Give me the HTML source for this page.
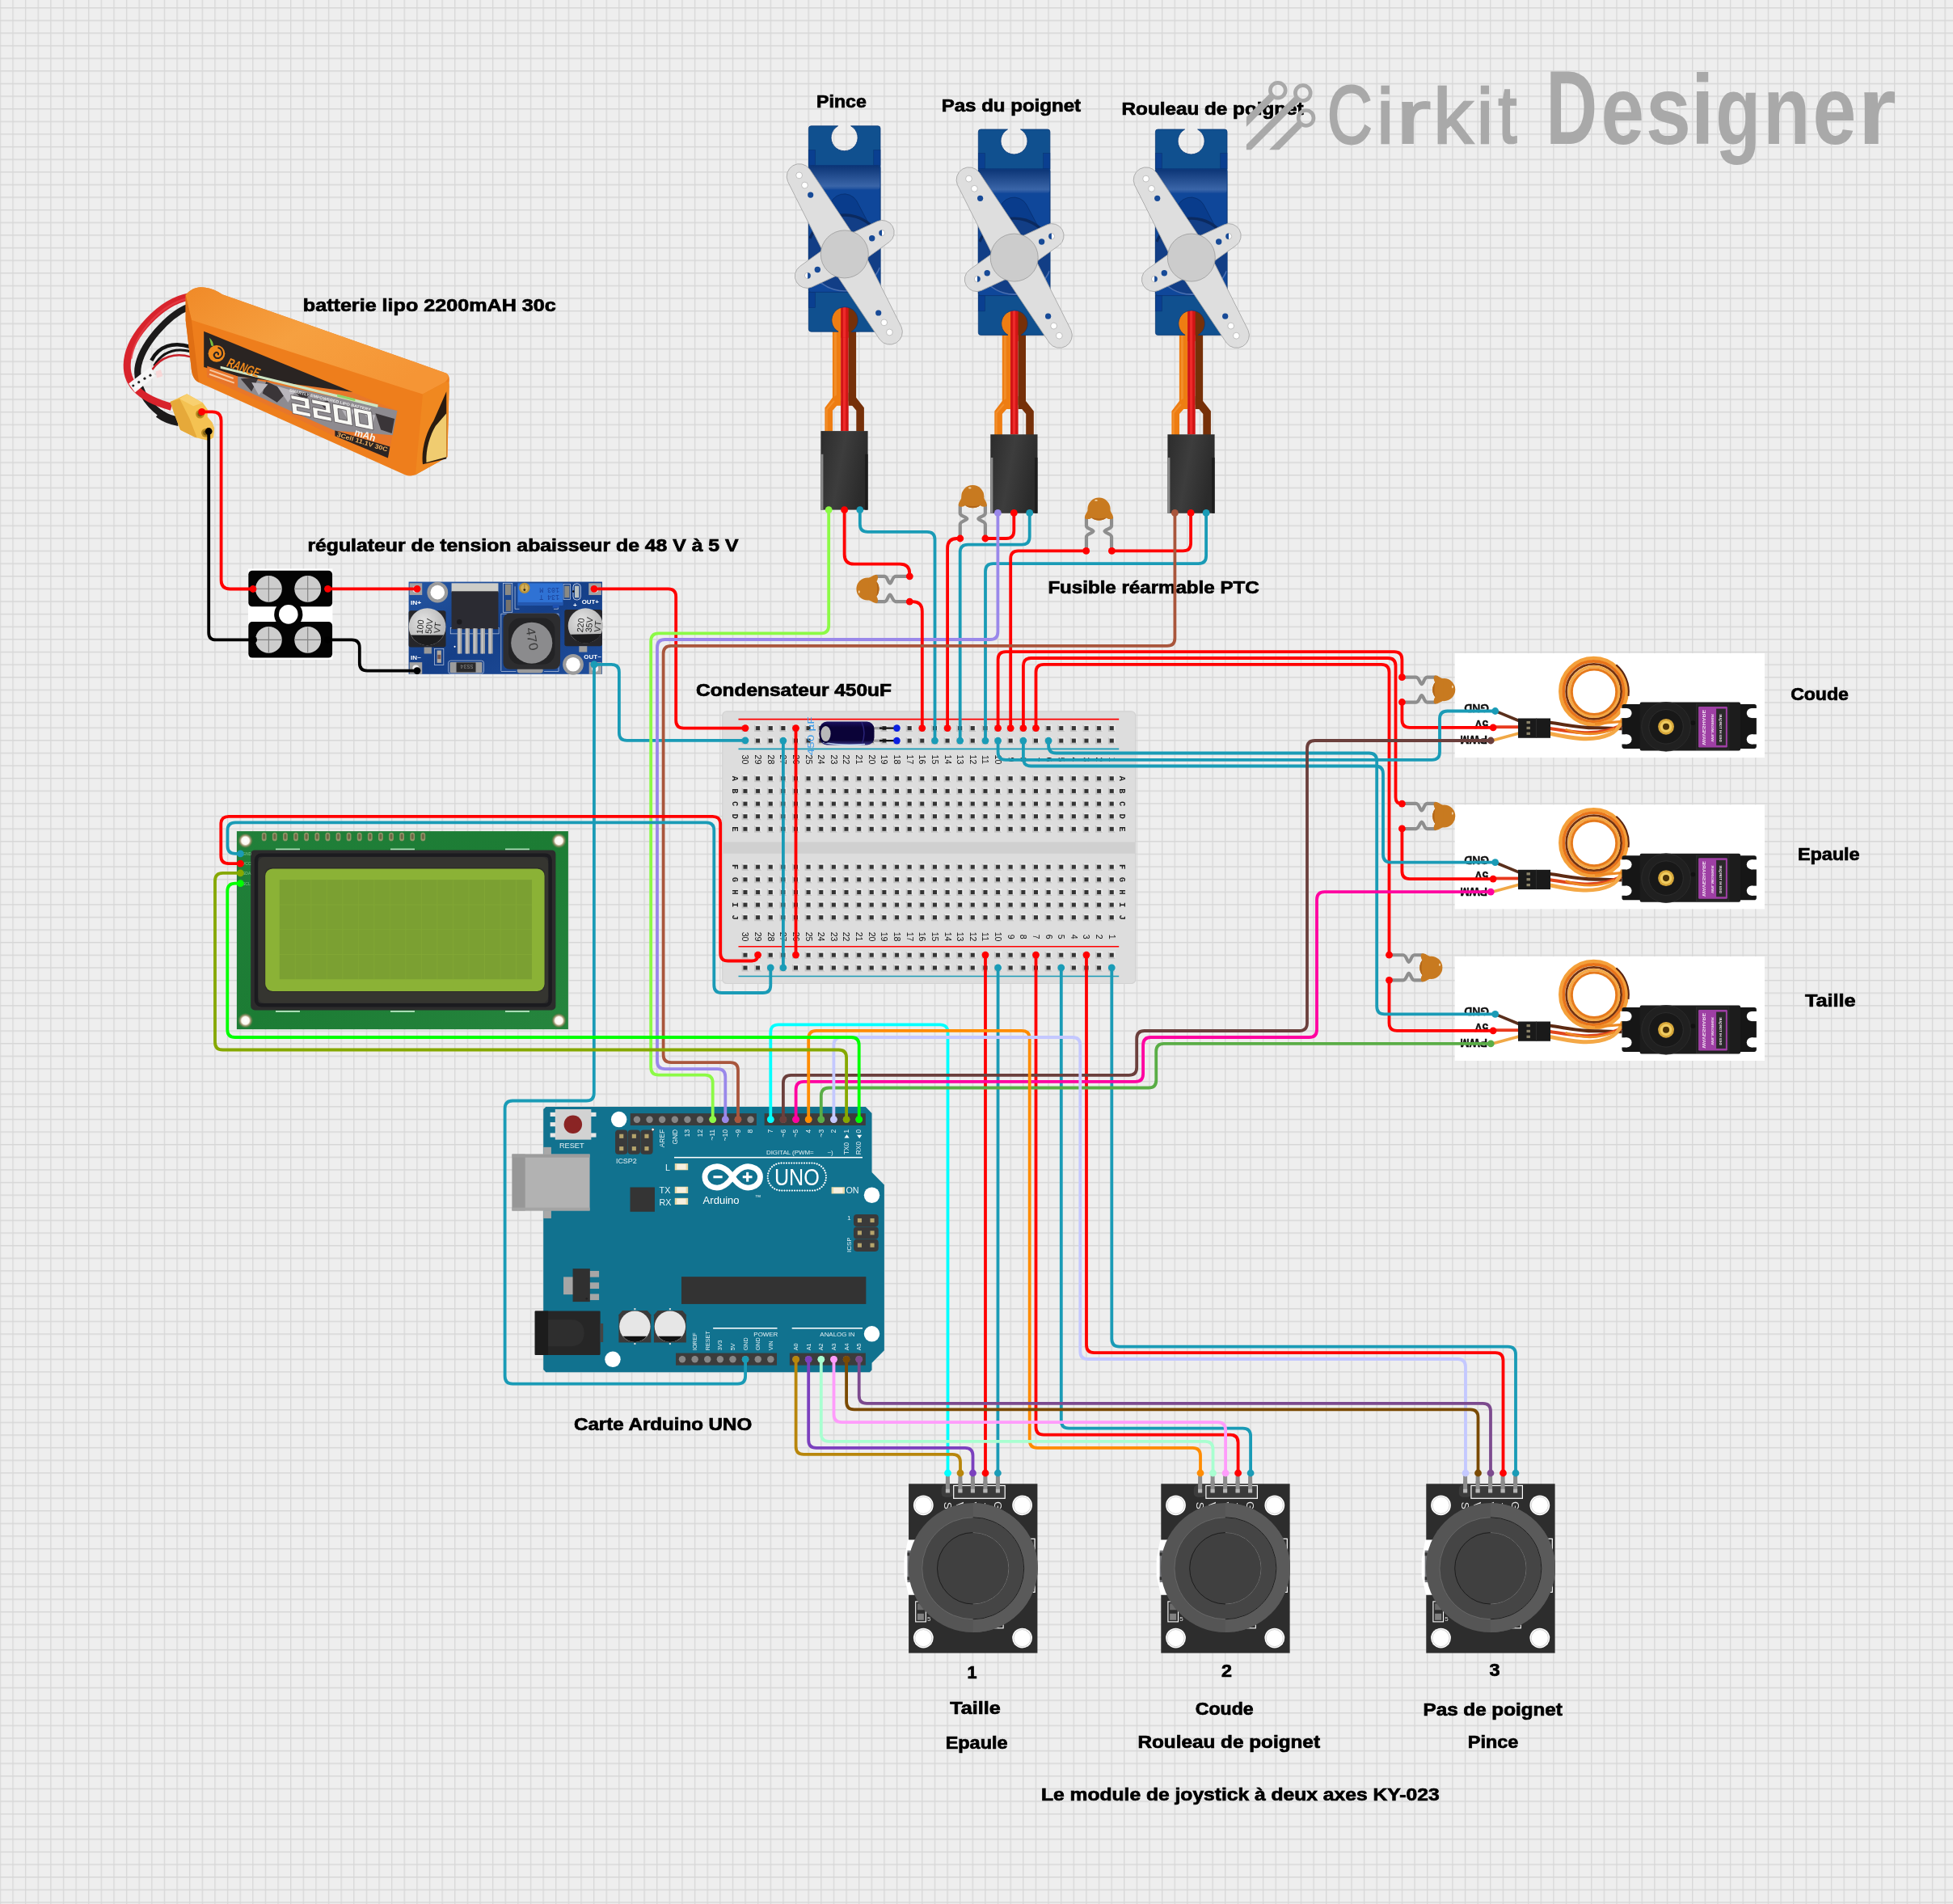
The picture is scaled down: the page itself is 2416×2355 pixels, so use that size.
<!DOCTYPE html>
<html><head><meta charset="utf-8"><title>Circuit</title>
<style>html,body{margin:0;padding:0;background:#eee}svg{display:block;font-family:"Liberation Sans",sans-serif;will-change:transform}</style></head>
<body>
<svg width="2416" height="2355" viewBox="0 0 2416 2355">
<defs><pattern id="grid" width="15.622" height="15.622" patternUnits="userSpaceOnUse" x="-0.3" y="9.0"><path d="M0.7 0V15.622 M0 0.7H15.622" stroke="#d7d7d7" stroke-width="1.3" fill="none"/></pattern></defs>
<rect width="2416" height="2355" fill="#eeeeee"/><rect width="2416" height="2355" fill="url(#grid)"/>
<defs><linearGradient id="sg" x1="0" y1="0" x2="0" y2="1"><stop offset="0" stop-color="#0c3576"/><stop offset="0.85" stop-color="#3a65a8"/><stop offset="1" stop-color="#1a4d9c"/></linearGradient><linearGradient id="cn" x1="0" y1="0" x2="1" y2="0.3"><stop offset="0" stop-color="#2c2c2c"/><stop offset="0.5" stop-color="#3d3d3d"/><stop offset="1" stop-color="#2b2b2b"/></linearGradient><g id="mservo"><rect x="29.5" y="236" width="10.2" height="110" fill="#ee7d12"/><rect x="31.5" y="236" width="3" height="110" fill="#f59a3a" opacity=".6"/><rect x="39.7" y="224" width="9.6" height="153.5" fill="#d01515"/><rect x="42.6" y="224" width="3.2" height="153.5" fill="#ee2a2a"/><rect x="49.3" y="236" width="9.4" height="110" fill="#763009"/><path d="M29.5 336L20 348.5V378H29.6V352L39.7 340.5V330Z" fill="#ee7d12"/><path d="M31.5 340L22.3 350.5V378" stroke="#f59a3a" stroke-width="2" fill="none" opacity=".6"/><path d="M58.7 336L68.5 348.5V378H58.9V352L49.3 340.5V330Z" fill="#763009"/><rect x="27" y="222" width="17.4" height="32.4" fill="#ee7d12"/><rect x="44.4" y="222" width="17.6" height="32.4" fill="#763009"/><rect x="39.7" y="222" width="9.6" height="40" fill="#d01515"/><rect x="42.6" y="222" width="3.2" height="40" fill="#ee2a2a"/><rect x="15" y="377.3" width="58.2" height="97.5" fill="url(#cn)"/><rect x="15" y="406" width="3" height="68.8" fill="#8a8a8a"/><rect x="69.8" y="406" width="3.4" height="68.8" fill="#1c1c1c"/><path d="M3 0H36.2A16.5 16.5 0 1 0 52.2 0H85.6A3 3 0 0 1 88.6 3V251.4A3 3 0 0 1 85.6 254.4H52.8A16.3 16.3 0 1 0 36.7 254.4H3A3 3 0 0 1 0 251.4V3A3 3 0 0 1 3 0Z" fill="#10508f" stroke="#0a3a78" stroke-width=".8"/><rect x="0" y="29.5" width="8.2" height="19.3" fill="#0a3f90" stroke="#08336f" stroke-width=".5"/><rect x="80.4" y="29.5" width="8.2" height="19.3" fill="#0a3f90" stroke="#08336f" stroke-width=".5"/><rect x="0" y="205.6" width="8.2" height="19.3" fill="#0a3f90" stroke="#08336f" stroke-width=".5"/><rect x="80.4" y="205.6" width="8.2" height="19.3" fill="#0a3f90" stroke="#08336f" stroke-width=".5"/><rect x="0" y="48.8" width="88.6" height="156.8" rx="3" fill="#0f479a" stroke="#0a3070" stroke-width=".7"/><rect x="0.5" y="49.3" width="87.6" height="29.5" rx="3" fill="url(#sg)"/><clipPath id="sclip"><rect x="0.5" y="49" width="87.6" height="156"/></clipPath><g clip-path="url(#sclip)"><path d="M26 101A18 18 0 0 1 59.5 93L78 128V150H26Z" fill="#093c8c" stroke="#072d6a" stroke-width=".7"/><circle cx="44.4" cy="157.6" r="47" fill="#123e86"/><path d="M1.5 139A47 47 0 0 1 76 122" stroke="#0b2a60" stroke-width="3.4" fill="none"/><path d="M13 192A47 47 0 0 0 88 175" stroke="#4a6fb0" stroke-width="1.6" fill="none"/></g><g transform="translate(44.4 158.6)"><g transform="rotate(-30.2)"><path d="M-22.5 0L-15.5 -113A15.6 15.6 0 0 1 15.5 -113L22.5 0L15.5 113A15.6 15.6 0 0 1 -15.5 113Z" fill="#dedede" stroke="#a6a6a6" stroke-width=".8"/></g><g transform="rotate(59.8)"><path d="M-20 0L-14.8 -55.5A14.9 14.9 0 0 1 14.8 -55.5L20 0L14.8 55.5A14.9 14.9 0 0 1 -14.8 55.5Z" fill="#dedede" stroke="#a6a6a6" stroke-width=".8"/></g><circle r="29.5" fill="#cccccc" stroke="#9a9a9a" stroke-width=".8"/></g><g fill="#fff" stroke="#aaa" stroke-width=".7"><circle cx="-11.8" cy="61.1" r="3.9"/><circle cx="-4.9" cy="73.3" r="3.9"/><circle cx="100" cy="255.2" r="3.9"/><circle cx="93.3" cy="243.1" r="3.9"/><circle cx="-1.3" cy="185.1" r="3.7"/><circle cx="90.6" cy="132.3" r="3.7"/></g><g fill="#174a97"><circle cx="2.3" cy="85.3" r="3.6"/><circle cx="86.3" cy="231.2" r="3.6"/><circle cx="10.9" cy="177.7" r="3.7"/><circle cx="78.3" cy="139" r="3.7"/><path d="M-1.3 181.4A3.7 3.7 0 0 1 -1.3 188.8Z"/><path d="M90.6 128.6A3.7 3.7 0 0 0 90.6 136Z"/></g></g></defs>
<defs><g id="joy"><rect x="45.8" y="-10" width="5" height="21" fill="#8c8c8c"/><rect x="61.3" y="-10" width="5" height="21" fill="#8c8c8c"/><rect x="76.8" y="-10" width="5" height="21" fill="#8c8c8c"/><rect x="92.3" y="-10" width="5" height="21" fill="#8c8c8c"/><rect x="107.8" y="-10" width="5" height="21" fill="#8c8c8c"/><rect x="0" y="0" width="159.3" height="209.3" fill="#2d2d2d"/><path d="M10 69.2H-1L-5.6 92.9V113.9L-0.3 137.5H10Z" fill="#ffffff"/><rect x="-1.6" y="82.4" width="12" height="39.4" fill="#77787c"/><rect x="-1.6" y="85" width="3" height="4" fill="#333"/><rect x="-1.6" y="115" width="3" height="4" fill="#333"/><rect x="146" y="68" width="10" height="66" fill="none" stroke="#fff" stroke-width="1.2"/><rect x="40.5" y="1.5" width="15.5" height="15" rx="5" fill="#3c3c3c"/><rect x="55.6" y="2.2" width="63.5" height="15.8" fill="#3a3a3a" stroke="#fff" stroke-width="1.2"/><rect x="45.8" y="-3" width="5" height="14" fill="#8c8c8c"/><rect x="45.8" y="6.5" width="5" height="4.5" fill="#b5b5b5"/><rect x="61.3" y="-3" width="5" height="14" fill="#8c8c8c"/><rect x="61.3" y="6.5" width="5" height="4.5" fill="#b5b5b5"/><rect x="76.8" y="-3" width="5" height="14" fill="#8c8c8c"/><rect x="76.8" y="6.5" width="5" height="4.5" fill="#b5b5b5"/><rect x="92.3" y="-3" width="5" height="14" fill="#8c8c8c"/><rect x="92.3" y="6.5" width="5" height="4.5" fill="#b5b5b5"/><rect x="107.8" y="-3" width="5" height="14" fill="#8c8c8c"/><rect x="107.8" y="6.5" width="5" height="4.5" fill="#b5b5b5"/><g font-size="13.5" fill="#e8e8e8" text-anchor="middle" font-family="Liberation Sans, sans-serif"><text transform="translate(43.5 27) rotate(90)">S</text><text transform="translate(59 27) rotate(90)">V</text><text transform="translate(74.5 27) rotate(90)">V</text><text transform="translate(90 27) rotate(90)">+</text><text transform="translate(105.5 27) rotate(90)">G</text></g><circle cx="18.2" cy="26.5" r="12.4" fill="#fff" stroke="#2d2d2d" stroke-width="0"/><circle cx="18.2" cy="26.5" r="10.6" fill="none" stroke="#bdbdbd" stroke-width=".7"/><circle cx="18.2" cy="190.8" r="12.4" fill="#fff" stroke="#2d2d2d" stroke-width="0"/><circle cx="18.2" cy="190.8" r="10.6" fill="none" stroke="#bdbdbd" stroke-width=".7"/><circle cx="140.5" cy="26.5" r="12.4" fill="#fff" stroke="#2d2d2d" stroke-width="0"/><circle cx="140.5" cy="26.5" r="10.6" fill="none" stroke="#bdbdbd" stroke-width=".7"/><circle cx="140.5" cy="190.8" r="12.4" fill="#fff" stroke="#2d2d2d" stroke-width="0"/><circle cx="140.5" cy="190.8" r="10.6" fill="none" stroke="#bdbdbd" stroke-width=".7"/><rect x="8.6" y="145.6" width="12.6" height="25" fill="#2d2d2d" stroke="#fff" stroke-width="1.1"/><rect x="10.8" y="148" width="8" height="8" fill="#6a6a6a"/><rect x="10.8" y="160.5" width="8" height="8" fill="#808080"/><text x="23" y="170" font-size="8" fill="#ddd" font-family="Liberation Sans, sans-serif">5</text><rect x="104" y="166" width="13" height="12.5" fill="none" stroke="#fff" stroke-width="1.1"/><circle cx="79.6" cy="103.7" r="80" fill="#555555"/><path d="M79.6 23.7A80 80 0 0 1 79.6 183.7Z" fill="#5a5a5a"/><circle cx="79.6" cy="104.5" r="63" fill="#454545" stroke="#6e6e6e" stroke-width=".8"/><path d="M79.6 41.5A63 63 0 0 1 79.6 167.5" fill="none" stroke="#1e1e1e" stroke-width="1"/><circle cx="79.6" cy="104.5" r="44.2" fill="#404040" stroke="#1c1c1c" stroke-width="1"/><path d="M79.6 60.3A44.2 44.2 0 0 1 79.6 148.7" fill="none" stroke="#777" stroke-width=".9"/></g></defs>
<defs><g id="bservo"><g transform="scale(0.20227) translate(-22 -40)" font-family="Liberation Sans, sans-serif"><rect x="23" y="39" width="1895" height="638" fill="#ffffff"/><path d="M415 452L270 392" stroke="#5a2f1c" stroke-width="18"/><path d="M415 490L258 490" stroke="#e83a1e" stroke-width="19"/><path d="M415 528L255 572" stroke="#f0a846" stroke-width="18"/><circle cx="872" cy="272" r="203" fill="none" stroke="#f4a03a" stroke-width="23"/><circle cx="872" cy="272" r="184" fill="none" stroke="#e8741a" stroke-width="18"/><circle cx="873" cy="273" r="168" fill="none" stroke="#74320f" stroke-width="14"/><circle cx="874" cy="274" r="152" fill="none" stroke="#f4a846" stroke-width="18"/><circle cx="875" cy="275" r="137" fill="none" stroke="#e67a1c" stroke-width="15"/><path d="M1010 110A215 215 0 0 1 1085 300" stroke="#5a2410" stroke-width="10" fill="none"/><path d="M600 462C700 475 800 500 900 495L1045 500" stroke="#5e2a12" stroke-width="20" fill="none"/><path d="M600 497C720 515 830 540 950 512C1000 500 1030 485 1045 478" stroke="#e0451c" stroke-width="20" fill="none"/><path d="M600 530C720 555 860 585 970 535C1035 505 1062 430 1060 360" stroke="#f4a846" stroke-width="24" fill="none"/><path d="M700 505C800 540 900 545 1000 500" stroke="#ee8a24" stroke-width="14" fill="none"/><path d="M880 470L1045 456" stroke="#ee8a24" stroke-width="16"/><rect x="410" y="437" width="198" height="120" fill="#1a1a1a"/><rect x="520" y="437" width="4" height="120" fill="#333"/><rect x="462" y="454" width="22" height="16" fill="#8c846a"/><rect x="462" y="488" width="22" height="16" fill="#8c846a"/><rect x="462" y="522" width="22" height="16" fill="#8c846a"/><rect x="1045" y="350" width="823" height="272" rx="14" fill="#161616"/><rect x="1155" y="338" width="615" height="297" rx="10" fill="#1c1c1c"/><circle cx="1075" cy="405" r="30" fill="#fff"/><circle cx="1075" cy="565" r="30" fill="#fff"/><circle cx="1838" cy="405" r="30" fill="#fff"/><circle cx="1838" cy="565" r="30" fill="#fff"/><rect x="1035" y="375" width="40" height="60" fill="#fff"/><rect x="1035" y="535" width="40" height="60" fill="#fff"/><rect x="1838" y="375" width="40" height="60" fill="#fff"/><rect x="1838" y="535" width="40" height="60" fill="#fff"/><circle cx="1315" cy="488" r="150" fill="#202020" stroke="#2e2e2e" stroke-width="4"/><circle cx="1315" cy="488" r="105" fill="#181818" stroke="#303030" stroke-width="4"/><circle cx="1315" cy="488" r="49" fill="#d8a83a"/><circle cx="1315" cy="488" r="36" fill="#f0cc60"/><circle cx="1315" cy="488" r="20" fill="#4a3208"/><circle cx="1480" cy="465" r="14" fill="#111"/><rect x="1500" y="350" width="200" height="280" fill="#222" stroke="#333" stroke-width="3"/><rect x="1513" y="365" width="177" height="250" rx="6" fill="#9e3fa4"/><rect x="1622" y="378" width="58" height="224" fill="#2a2a2a"/><g fill="#f0e0f0" font-weight="bold"><text transform="translate(1538 600) rotate(-90) scale(1 -1)" font-size="30" textLength="215" lengthAdjust="spacingAndGlyphs">WAVESHARE</text><text transform="translate(1590 580) rotate(-90) scale(1 -1)" font-size="20" textLength="170" lengthAdjust="spacingAndGlyphs">WS-MG996R</text><text transform="translate(1642 580) rotate(-90) scale(1 -1)" font-size="19" textLength="170" lengthAdjust="spacingAndGlyphs">DIGI HI TORQUE</text></g><g font-size="74" font-weight="bold" fill="#111" stroke="#111" stroke-width="2" text-anchor="start"><text transform="translate(232 352) rotate(180)" textLength="152" lengthAdjust="spacingAndGlyphs">GND</text><text transform="translate(228 447) rotate(180)" textLength="83" lengthAdjust="spacingAndGlyphs">5V</text><text transform="translate(222 545) rotate(180)" textLength="167" lengthAdjust="spacingAndGlyphs">PWM</text></g></g></g></defs>
<g id="bat" transform="translate(140 340) scale(0.22528)" font-family="Liberation Sans, sans-serif"><defs><linearGradient id="btop" x1="0" y1="0" x2="1" y2="0.6"><stop offset="0" stop-color="#f08a28"/><stop offset="0.5" stop-color="#f6a040"/><stop offset="1" stop-color="#f59535"/></linearGradient></defs><path d="M415 175C300 220 150 390 135 515C125 640 210 750 335 800" stroke="#1c1a1a" stroke-width="36" fill="none"/><path d="M415 120C260 150 95 330 78 470C62 600 150 680 320 725" stroke="#d8232c" stroke-width="40" fill="none"/><path d="M405 130C260 165 120 320 100 460" stroke="#e8414a" stroke-width="10" fill="none" opacity=".7"/><path d="M425 395C330 365 250 390 210 470" stroke="#141414" stroke-width="20" fill="none"/><path d="M425 420C340 400 270 420 225 500" stroke="#141414" stroke-width="14" fill="none"/><path d="M425 450C340 425 260 450 215 520" stroke="#c8202a" stroke-width="11" fill="none"/><path d="M250 760C290 790 330 800 360 805" stroke="#1c1a1a" stroke-width="50" fill="none"/><path d="M85 597L205 505L231 554L120 646Z" fill="#f6f6f6"/><path d="M233 530L262 520L272 556L240 566Z" fill="#f9d4d4" opacity=".9"/><circle cx="110" cy="608" r="7" fill="#222"/><circle cx="141" cy="589" r="7" fill="#222"/><circle cx="173" cy="569" r="7" fill="#222"/><circle cx="204" cy="551" r="7" fill="#222"/><path d="M313 697L405 654L492 703L518 738L518 779L544 810L556 841L551 892L523 910L451 892L369 851L338 769Z" fill="#f4c252"/><path d="M313 697L365 680L420 790L460 893L451 892L369 851L338 769Z" fill="#e6a93a"/><path d="M365 680L405 654L492 703L440 720Z" fill="#f8d070"/><circle cx="477" cy="764" r="24" fill="#b98a20"/><circle cx="477" cy="764" r="14" fill="#7a5a10"/><circle cx="508" cy="867" r="24" fill="#b98a20"/><circle cx="508" cy="867" r="14" fill="#7a5a10"/><path d="M398 110C420 85 450 68 480 68C520 68 560 80 600 108L1830 540C1845 550 1848 565 1845 590L1835 1000L1660 1098C1640 1106 1620 1104 1600 1096L470 590C440 575 430 540 428 500L398 250Z" fill="#ee7e1c"/><path d="M398 110C420 85 450 68 480 68C520 68 560 80 600 108L1830 540C1848 552 1840 575 1820 590L1700 655L430 248Z" fill="url(#btop)"/><path d="M398 110L430 248L470 590C440 575 430 540 428 500L398 250Z" fill="#e06f14"/><path d="M1700 655L1820 590C1845 580 1846 600 1845 620L1835 1000L1660 1098Z" fill="#f08820"/><path d="M1760 800L1830 640V1010L1700 1040C1690 960 1720 860 1760 800Z" fill="#2a1c10"/><path d="M1770 830L1830 760V1000L1720 1030C1715 960 1740 880 1770 830Z" fill="#f0cc70"/><path d="M498 310L1560 746L1509 1008L1218 886L684 640L516 560Z" fill="#e8772a"/><path d="M684 555L1560 746L1535 880L1218 856L684 616Z" fill="#8e8b90"/><path d="M700 570L800 560L760 640Z M840 585L960 640L900 700L820 650Z M1000 640L1080 650L1050 700Z M1440 760L1545 790L1530 870L1470 850Z M1130 700L1180 690L1190 760Z" fill="#3a3538"/><path d="M760 590L850 600L800 660Z M1250 730L1330 740L1290 800Z M1380 760L1440 770L1420 830Z M900 610L1000 640L960 700Z" fill="#b9b6bc"/><path d="M498 310L1316 644L684 557L498 506Z" fill="#2a2422"/><path d="M589 500L1455 712L1452 728L589 514Z" fill="#cfe6c4"/><path d="M1230 655L1330 680L1328 694L1230 668Z" fill="#8fd46a"/><path d="M516 500L684 557L684 616L518 560Z" fill="#e8742a"/><path d="M530 522L660 568 M528 545L665 593" stroke="#f6c8a0" stroke-width="9"/><path d="M1218 855L1520 943L1509 1005L1218 885Z" fill="#2b2423"/><circle cx="568" cy="432" r="46" fill="#f08a1c"/><path d="M575 400C600 405 610 440 585 455C560 465 545 440 560 428C570 420 582 430 575 440" stroke="#2b2423" stroke-width="9" fill="none"/><path d="M528 345C545 360 552 375 550 392L538 388C534 370 532 360 528 345Z" fill="#7ac040"/><text transform="translate(618 500) rotate(20) skewX(-8)" font-size="72" fill="#f08a1c" font-weight="bold" textLength="185" lengthAdjust="spacingAndGlyphs">RANGE</text><g transform="matrix(0.997 0.2045 0.109 1.019 975 659)" fill="#f8f8f4" stroke="#4a4548" stroke-width="3" fill-rule="evenodd"><path d="M0 0H100V58H27V78H100V100H0V42H73V22H0Z"/><path transform="translate(115 0)" d="M0 0H100V58H27V78H100V100H0V42H73V22H0Z"/><path transform="translate(230 0)" d="M0 0H100V100H0ZM27 22V78H73V22Z"/><path transform="translate(345 0)" d="M0 0H100V100H0ZM27 22V78H73V22Z"/></g><text transform="translate(1322 880) rotate(17)" font-size="54" fill="#f4f4f0" font-weight="bold" textLength="118" lengthAdjust="spacingAndGlyphs">mAh</text><text transform="translate(1226 886) rotate(17)" font-size="34" fill="#f0b060" font-weight="bold" textLength="290" lengthAdjust="spacingAndGlyphs">3Cell 11.1V 30C</text><text transform="translate(965 640) rotate(13.5)" font-size="22" fill="#e8e8e8" font-weight="bold" textLength="460" lengthAdjust="spacingAndGlyphs">SMARTLY EMPOWERED LIPO BATTERY</text></g>
<g id="term"><rect x="306.9" y="703.5" width="104.5" height="112.3" fill="#ffffff"/><rect x="307.3" y="705.8" width="103.8" height="44.5" rx="4.8" fill="#030303"/><rect x="307.3" y="769.1" width="103.8" height="44.5" rx="4.8" fill="#030303"/><circle cx="356.8" cy="759.9" r="14.7" fill="#fff" stroke="#030303" stroke-width="5.8"/><circle cx="332.4" cy="728.3" r="16.4" fill="#cdcdcd"/><path d="M332.4 712.3V744.3 M316.4 728.3H348.4" stroke="#808080" stroke-width="1.1"/><circle cx="332.4" cy="791.4" r="16.4" fill="#cdcdcd"/><path d="M332.4 775.4V807.4 M316.4 791.4H348.4" stroke="#808080" stroke-width="1.1"/><circle cx="380.7" cy="728.3" r="16.4" fill="#cdcdcd"/><path d="M380.7 712.3V744.3 M364.7 728.3H396.7" stroke="#808080" stroke-width="1.1"/><circle cx="380.7" cy="791.4" r="16.4" fill="#cdcdcd"/><path d="M380.7 775.4V807.4 M364.7 791.4H396.7" stroke="#808080" stroke-width="1.1"/></g>
<g id="reg" transform="translate(496 710) scale(0.13312)" font-family="Liberation Sans, sans-serif"><defs><linearGradient id="rg" x1="0" y1="0" x2="1" y2="1"><stop offset="0" stop-color="#2456a2"/><stop offset="0.5" stop-color="#153f88"/><stop offset="1" stop-color="#1f4e9c"/></linearGradient><radialGradient id="cg" cx=".4" cy=".35" r=".7"><stop offset="0" stop-color="#e4e4e4"/><stop offset="1" stop-color="#b0b0b0"/></radialGradient></defs><rect x="72" y="72" width="1798" height="858" fill="url(#rg)"/><rect x="80" y="85" width="117" height="110" fill="#a2a2a2"/><rect x="1745" y="85" width="117" height="110" fill="#a2a2a2"/><rect x="80" y="820" width="117" height="110" fill="#a2a2a2"/><rect x="1748" y="820" width="117" height="110" fill="#a2a2a2"/><circle cx="138" cy="140" r="30" fill="#f2f2f2"/><circle cx="1805" cy="140" r="30" fill="#f2f2f2"/><circle cx="138" cy="875" r="30" fill="#f2f2f2"/><circle cx="1805" cy="878" r="30" fill="#f2f2f2"/><circle cx="340" cy="170" r="97" fill="#9c9c9c"/><circle cx="340" cy="170" r="66" fill="#fff"/><circle cx="1600" cy="840" r="97" fill="#9c9c9c"/><circle cx="1600" cy="840" r="66" fill="#fff"/><rect x="460" y="500" width="450" height="55" fill="none" stroke="#cfd8e8" stroke-width="5"/><rect x="470" y="85" width="435" height="85" fill="#cdcdc8"/><rect x="470" y="160" width="435" height="352" fill="#2b2b32"/><circle cx="543" cy="445" r="24" fill="#1a1a1e"/><rect x="524" y="505" width="42" height="235" fill="#a8a8a8"/><rect x="535" y="505" width="12" height="235" fill="#c8c8c8"/><rect x="597" y="505" width="42" height="235" fill="#a8a8a8"/><rect x="608" y="505" width="12" height="235" fill="#c8c8c8"/><rect x="669" y="505" width="42" height="235" fill="#a8a8a8"/><rect x="680" y="505" width="12" height="235" fill="#c8c8c8"/><rect x="739" y="505" width="42" height="235" fill="#a8a8a8"/><rect x="750" y="505" width="12" height="235" fill="#c8c8c8"/><rect x="811" y="505" width="42" height="235" fill="#a8a8a8"/><rect x="822" y="505" width="12" height="235" fill="#c8c8c8"/><circle cx="500" cy="675" r="8" fill="#fff"/><rect x="950" y="85" width="85" height="270" fill="none" stroke="#cfd8e8" stroke-width="5"/><rect x="968" y="95" width="55" height="100" fill="#8a8a84"/><rect x="975" y="240" width="48" height="105" fill="#77736c"/><rect x="1510" y="95" width="65" height="140" fill="none" stroke="#cfd8e8" stroke-width="5"/><rect x="1520" y="110" width="45" height="110" fill="#8a8a84"/><rect x="1600" y="90" width="70" height="150" rx="30" fill="none" stroke="#e8eef8" stroke-width="6"/><rect x="1615" y="110" width="40" height="110" fill="#b8c0c0"/><circle cx="1602" cy="162" r="9" fill="#000"/><path d="M1060 115V325H1100 M1420 325H1460V300" stroke="#cfd8e8" stroke-width="5" fill="none"/><rect x="1085" y="85" width="420" height="205" fill="#2f72d4"/><rect x="1085" y="262" width="420" height="28" fill="#2458b0"/><rect x="1410" y="285" width="60" height="28" fill="#1d50b0"/><circle cx="1148" cy="130" r="50" fill="#b8923a"/><circle cx="1148" cy="130" r="34" fill="#d6b055"/><circle cx="1148" cy="147" r="10" fill="#111"/><path d="M1148 95V160" stroke="#6a5020" stroke-width="4"/><g font-size="62" fill="#1a3f96" font-family="Liberation Mono, monospace"><text transform="translate(1472 130) rotate(180)">103 M</text><text transform="translate(1472 196) rotate(180)">134 T</text></g><path d="M930 900V370H1465 V400 M1465 850V905H1330 M1070 905H930" stroke="#cfd8e8" stroke-width="5" fill="none"/><rect x="1080" y="870" width="240" height="50" rx="25" fill="#9a9a9a"/><rect x="950" y="365" width="530" height="520" rx="60" fill="#2d2d2f"/><rect x="1000" y="410" width="430" height="430" rx="110" fill="#232325"/><circle cx="1215" cy="640" r="192" fill="#8b8b8d"/><text transform="translate(1160 505) rotate(80)" font-size="118" fill="#3c3c3c" textLength="215" lengthAdjust="spacingAndGlyphs">470</text><rect x="72" y="340" width="345" height="340" rx="20" fill="#26262a"/><circle cx="245" cy="490" r="172" fill="url(#cg)"/><path d="M92 568A172 172 0 0 0 398 568Z" fill="#1c1c1e"/><g font-size="80" fill="#222" textLength="160"><text transform="translate(200 560) rotate(-84)">100</text><text transform="translate(282 558) rotate(-84)">50V</text><text transform="translate(360 552) rotate(-84)">VT</text></g><rect x="1520" y="330" width="350" height="340" rx="20" fill="#26262a"/><circle cx="1715" cy="480" r="162" fill="url(#cg)"/><path d="M1575 562A162 162 0 0 0 1860 555Z" fill="#1c1c1e"/><g font-size="80" fill="#222"><text transform="translate(1690 545) rotate(-84)">220</text><text transform="translate(1770 545) rotate(-84)">35V</text><text transform="translate(1850 540) rotate(-84)">VT</text></g><rect x="215" y="680" width="70" height="60" fill="#9a9a9a"/><rect x="1655" y="670" width="75" height="55" fill="#a0a0a0"/><rect x="312" y="695" width="85" height="150" fill="none" stroke="#cfd8e8" stroke-width="5"/><rect x="335" y="710" width="40" height="115" fill="#b0a8a0"/><rect x="340" y="750" width="30" height="40" fill="#7a5a50"/><rect x="440" y="805" width="330" height="120" rx="22" fill="none" stroke="#cfd8e8" stroke-width="5"/><rect x="455" y="818" width="300" height="100" rx="10" fill="#9c9c9c"/><rect x="515" y="822" width="180" height="90" fill="#2a2a2c"/><text transform="translate(672 845) rotate(180)" font-size="50" fill="#888" font-family="Liberation Mono, monospace">SS34</text><g font-size="52" fill="#fff" font-weight="bold"><text x="90" y="287" textLength="100" lengthAdjust="spacingAndGlyphs">IN+</text><text x="90" y="800" textLength="95" lengthAdjust="spacingAndGlyphs">IN−</text><text x="1680" y="280" textLength="160" lengthAdjust="spacingAndGlyphs">OUT+</text><text x="1700" y="790" textLength="160" lengthAdjust="spacingAndGlyphs">OUT−</text><text x="1600" y="305" font-size="60">+</text></g></g>
<g id="bb"><rect x="893.8" y="879.9" width="510.8" height="336.6" rx="5" fill="#dddddd" stroke="#d2d2d2" stroke-width="1.2"/><rect x="894.4" y="1041.5" width="509.6" height="14.3" fill="#d0d0d0"/><defs><g id="h"><path d="M-4.45 -4.45H4.45V4.45Z" fill="#e9e9e9"/><path d="M-4.45 -4.45V4.45H4.45Z" fill="#c2c2c2"/><rect x="-2.5" y="-2.5" width="5" height="5" fill="#343434"/></g><g id="hd"><rect x="-2.5" y="-2.5" width="5" height="5" fill="#222"/></g></defs><g transform="translate(0 900.6)"><use href="#h" x="1375.3"/><use href="#h" x="1359.6"/><use href="#h" x="1344"/><use href="#h" x="1328.4"/><use href="#h" x="1312.8"/><use href="#h" x="1297.1"/><use href="#h" x="1281.5"/><use href="#h" x="1265.9"/><use href="#h" x="1250.2"/><use href="#h" x="1234.6"/><use href="#h" x="1219"/><use href="#h" x="1203.3"/><use href="#h" x="1187.7"/><use href="#h" x="1172.1"/><use href="#h" x="1156.5"/><use href="#h" x="1140.8"/><use href="#h" x="1125.2"/><use href="#h" x="1109.6"/><use href="#h" x="1093.9"/><use href="#h" x="1078.3"/><use href="#h" x="1062.7"/><use href="#h" x="1047"/><use href="#h" x="1031.4"/><use href="#h" x="1015.8"/><use href="#h" x="1000.1"/><use href="#h" x="984.5"/><use href="#h" x="968.9"/><use href="#h" x="953.3"/><use href="#h" x="937.6"/><use href="#h" x="922"/></g><g transform="translate(0 916.1)"><use href="#h" x="1375.3"/><use href="#h" x="1359.6"/><use href="#h" x="1344"/><use href="#h" x="1328.4"/><use href="#h" x="1312.8"/><use href="#h" x="1297.1"/><use href="#h" x="1281.5"/><use href="#h" x="1265.9"/><use href="#h" x="1250.2"/><use href="#h" x="1234.6"/><use href="#h" x="1219"/><use href="#h" x="1203.3"/><use href="#h" x="1187.7"/><use href="#h" x="1172.1"/><use href="#h" x="1156.5"/><use href="#h" x="1140.8"/><use href="#h" x="1125.2"/><use href="#h" x="1109.6"/><use href="#h" x="1093.9"/><use href="#h" x="1078.3"/><use href="#h" x="1062.7"/><use href="#h" x="1047"/><use href="#h" x="1031.4"/><use href="#h" x="1015.8"/><use href="#h" x="1000.1"/><use href="#h" x="984.5"/><use href="#h" x="968.9"/><use href="#h" x="953.3"/><use href="#h" x="937.6"/><use href="#h" x="922"/></g><g transform="translate(0 962.8)"><use href="#h" x="1375.3"/><use href="#h" x="1359.6"/><use href="#h" x="1344"/><use href="#h" x="1328.4"/><use href="#h" x="1312.8"/><use href="#h" x="1297.1"/><use href="#h" x="1281.5"/><use href="#h" x="1265.9"/><use href="#h" x="1250.2"/><use href="#h" x="1234.6"/><use href="#h" x="1219"/><use href="#h" x="1203.3"/><use href="#h" x="1187.7"/><use href="#h" x="1172.1"/><use href="#h" x="1156.5"/><use href="#h" x="1140.8"/><use href="#h" x="1125.2"/><use href="#h" x="1109.6"/><use href="#h" x="1093.9"/><use href="#h" x="1078.3"/><use href="#h" x="1062.7"/><use href="#h" x="1047"/><use href="#h" x="1031.4"/><use href="#h" x="1015.8"/><use href="#h" x="1000.1"/><use href="#h" x="984.5"/><use href="#h" x="968.9"/><use href="#h" x="953.3"/><use href="#h" x="937.6"/><use href="#h" x="922"/></g><g transform="translate(0 978.4)"><use href="#h" x="1375.3"/><use href="#h" x="1359.6"/><use href="#h" x="1344"/><use href="#h" x="1328.4"/><use href="#h" x="1312.8"/><use href="#h" x="1297.1"/><use href="#h" x="1281.5"/><use href="#h" x="1265.9"/><use href="#h" x="1250.2"/><use href="#h" x="1234.6"/><use href="#h" x="1219"/><use href="#h" x="1203.3"/><use href="#h" x="1187.7"/><use href="#h" x="1172.1"/><use href="#h" x="1156.5"/><use href="#h" x="1140.8"/><use href="#h" x="1125.2"/><use href="#h" x="1109.6"/><use href="#h" x="1093.9"/><use href="#h" x="1078.3"/><use href="#h" x="1062.7"/><use href="#h" x="1047"/><use href="#h" x="1031.4"/><use href="#h" x="1015.8"/><use href="#h" x="1000.1"/><use href="#h" x="984.5"/><use href="#h" x="968.9"/><use href="#h" x="953.3"/><use href="#h" x="937.6"/><use href="#h" x="922"/></g><g transform="translate(0 994.1)"><use href="#h" x="1375.3"/><use href="#h" x="1359.6"/><use href="#h" x="1344"/><use href="#h" x="1328.4"/><use href="#h" x="1312.8"/><use href="#h" x="1297.1"/><use href="#h" x="1281.5"/><use href="#h" x="1265.9"/><use href="#h" x="1250.2"/><use href="#h" x="1234.6"/><use href="#h" x="1219"/><use href="#h" x="1203.3"/><use href="#h" x="1187.7"/><use href="#h" x="1172.1"/><use href="#h" x="1156.5"/><use href="#h" x="1140.8"/><use href="#h" x="1125.2"/><use href="#h" x="1109.6"/><use href="#h" x="1093.9"/><use href="#h" x="1078.3"/><use href="#h" x="1062.7"/><use href="#h" x="1047"/><use href="#h" x="1031.4"/><use href="#h" x="1015.8"/><use href="#h" x="1000.1"/><use href="#h" x="984.5"/><use href="#h" x="968.9"/><use href="#h" x="953.3"/><use href="#h" x="937.6"/><use href="#h" x="922"/></g><g transform="translate(0 1009.7)"><use href="#h" x="1375.3"/><use href="#h" x="1359.6"/><use href="#h" x="1344"/><use href="#h" x="1328.4"/><use href="#h" x="1312.8"/><use href="#h" x="1297.1"/><use href="#h" x="1281.5"/><use href="#h" x="1265.9"/><use href="#h" x="1250.2"/><use href="#h" x="1234.6"/><use href="#h" x="1219"/><use href="#h" x="1203.3"/><use href="#h" x="1187.7"/><use href="#h" x="1172.1"/><use href="#h" x="1156.5"/><use href="#h" x="1140.8"/><use href="#h" x="1125.2"/><use href="#h" x="1109.6"/><use href="#h" x="1093.9"/><use href="#h" x="1078.3"/><use href="#h" x="1062.7"/><use href="#h" x="1047"/><use href="#h" x="1031.4"/><use href="#h" x="1015.8"/><use href="#h" x="1000.1"/><use href="#h" x="984.5"/><use href="#h" x="968.9"/><use href="#h" x="953.3"/><use href="#h" x="937.6"/><use href="#h" x="922"/></g><g transform="translate(0 1025.3)"><use href="#h" x="1375.3"/><use href="#h" x="1359.6"/><use href="#h" x="1344"/><use href="#h" x="1328.4"/><use href="#h" x="1312.8"/><use href="#h" x="1297.1"/><use href="#h" x="1281.5"/><use href="#h" x="1265.9"/><use href="#h" x="1250.2"/><use href="#h" x="1234.6"/><use href="#h" x="1219"/><use href="#h" x="1203.3"/><use href="#h" x="1187.7"/><use href="#h" x="1172.1"/><use href="#h" x="1156.5"/><use href="#h" x="1140.8"/><use href="#h" x="1125.2"/><use href="#h" x="1109.6"/><use href="#h" x="1093.9"/><use href="#h" x="1078.3"/><use href="#h" x="1062.7"/><use href="#h" x="1047"/><use href="#h" x="1031.4"/><use href="#h" x="1015.8"/><use href="#h" x="1000.1"/><use href="#h" x="984.5"/><use href="#h" x="968.9"/><use href="#h" x="953.3"/><use href="#h" x="937.6"/><use href="#h" x="922"/></g><g transform="translate(0 1072.2)"><use href="#h" x="1375.3"/><use href="#h" x="1359.6"/><use href="#h" x="1344"/><use href="#h" x="1328.4"/><use href="#h" x="1312.8"/><use href="#h" x="1297.1"/><use href="#h" x="1281.5"/><use href="#h" x="1265.9"/><use href="#h" x="1250.2"/><use href="#h" x="1234.6"/><use href="#h" x="1219"/><use href="#h" x="1203.3"/><use href="#h" x="1187.7"/><use href="#h" x="1172.1"/><use href="#h" x="1156.5"/><use href="#h" x="1140.8"/><use href="#h" x="1125.2"/><use href="#h" x="1109.6"/><use href="#h" x="1093.9"/><use href="#h" x="1078.3"/><use href="#h" x="1062.7"/><use href="#h" x="1047"/><use href="#h" x="1031.4"/><use href="#h" x="1015.8"/><use href="#h" x="1000.1"/><use href="#h" x="984.5"/><use href="#h" x="968.9"/><use href="#h" x="953.3"/><use href="#h" x="937.6"/><use href="#h" x="922"/></g><g transform="translate(0 1087.8)"><use href="#h" x="1375.3"/><use href="#h" x="1359.6"/><use href="#h" x="1344"/><use href="#h" x="1328.4"/><use href="#h" x="1312.8"/><use href="#h" x="1297.1"/><use href="#h" x="1281.5"/><use href="#h" x="1265.9"/><use href="#h" x="1250.2"/><use href="#h" x="1234.6"/><use href="#h" x="1219"/><use href="#h" x="1203.3"/><use href="#h" x="1187.7"/><use href="#h" x="1172.1"/><use href="#h" x="1156.5"/><use href="#h" x="1140.8"/><use href="#h" x="1125.2"/><use href="#h" x="1109.6"/><use href="#h" x="1093.9"/><use href="#h" x="1078.3"/><use href="#h" x="1062.7"/><use href="#h" x="1047"/><use href="#h" x="1031.4"/><use href="#h" x="1015.8"/><use href="#h" x="1000.1"/><use href="#h" x="984.5"/><use href="#h" x="968.9"/><use href="#h" x="953.3"/><use href="#h" x="937.6"/><use href="#h" x="922"/></g><g transform="translate(0 1103.5)"><use href="#h" x="1375.3"/><use href="#h" x="1359.6"/><use href="#h" x="1344"/><use href="#h" x="1328.4"/><use href="#h" x="1312.8"/><use href="#h" x="1297.1"/><use href="#h" x="1281.5"/><use href="#h" x="1265.9"/><use href="#h" x="1250.2"/><use href="#h" x="1234.6"/><use href="#h" x="1219"/><use href="#h" x="1203.3"/><use href="#h" x="1187.7"/><use href="#h" x="1172.1"/><use href="#h" x="1156.5"/><use href="#h" x="1140.8"/><use href="#h" x="1125.2"/><use href="#h" x="1109.6"/><use href="#h" x="1093.9"/><use href="#h" x="1078.3"/><use href="#h" x="1062.7"/><use href="#h" x="1047"/><use href="#h" x="1031.4"/><use href="#h" x="1015.8"/><use href="#h" x="1000.1"/><use href="#h" x="984.5"/><use href="#h" x="968.9"/><use href="#h" x="953.3"/><use href="#h" x="937.6"/><use href="#h" x="922"/></g><g transform="translate(0 1119.1)"><use href="#h" x="1375.3"/><use href="#h" x="1359.6"/><use href="#h" x="1344"/><use href="#h" x="1328.4"/><use href="#h" x="1312.8"/><use href="#h" x="1297.1"/><use href="#h" x="1281.5"/><use href="#h" x="1265.9"/><use href="#h" x="1250.2"/><use href="#h" x="1234.6"/><use href="#h" x="1219"/><use href="#h" x="1203.3"/><use href="#h" x="1187.7"/><use href="#h" x="1172.1"/><use href="#h" x="1156.5"/><use href="#h" x="1140.8"/><use href="#h" x="1125.2"/><use href="#h" x="1109.6"/><use href="#h" x="1093.9"/><use href="#h" x="1078.3"/><use href="#h" x="1062.7"/><use href="#h" x="1047"/><use href="#h" x="1031.4"/><use href="#h" x="1015.8"/><use href="#h" x="1000.1"/><use href="#h" x="984.5"/><use href="#h" x="968.9"/><use href="#h" x="953.3"/><use href="#h" x="937.6"/><use href="#h" x="922"/></g><g transform="translate(0 1134.7)"><use href="#h" x="1375.3"/><use href="#h" x="1359.6"/><use href="#h" x="1344"/><use href="#h" x="1328.4"/><use href="#h" x="1312.8"/><use href="#h" x="1297.1"/><use href="#h" x="1281.5"/><use href="#h" x="1265.9"/><use href="#h" x="1250.2"/><use href="#h" x="1234.6"/><use href="#h" x="1219"/><use href="#h" x="1203.3"/><use href="#h" x="1187.7"/><use href="#h" x="1172.1"/><use href="#h" x="1156.5"/><use href="#h" x="1140.8"/><use href="#h" x="1125.2"/><use href="#h" x="1109.6"/><use href="#h" x="1093.9"/><use href="#h" x="1078.3"/><use href="#h" x="1062.7"/><use href="#h" x="1047"/><use href="#h" x="1031.4"/><use href="#h" x="1015.8"/><use href="#h" x="1000.1"/><use href="#h" x="984.5"/><use href="#h" x="968.9"/><use href="#h" x="953.3"/><use href="#h" x="937.6"/><use href="#h" x="922"/></g><g transform="translate(0 1181.2)"><use href="#h" x="1375.3"/><use href="#h" x="1359.6"/><use href="#h" x="1344"/><use href="#h" x="1328.4"/><use href="#h" x="1312.8"/><use href="#h" x="1297.1"/><use href="#h" x="1281.5"/><use href="#h" x="1265.9"/><use href="#h" x="1250.2"/><use href="#h" x="1234.6"/><use href="#h" x="1219"/><use href="#h" x="1203.3"/><use href="#h" x="1187.7"/><use href="#h" x="1172.1"/><use href="#h" x="1156.5"/><use href="#h" x="1140.8"/><use href="#h" x="1125.2"/><use href="#h" x="1109.6"/><use href="#h" x="1093.9"/><use href="#h" x="1078.3"/><use href="#h" x="1062.7"/><use href="#h" x="1047"/><use href="#h" x="1031.4"/><use href="#h" x="1015.8"/><use href="#h" x="1000.1"/><use href="#h" x="984.5"/><use href="#h" x="968.9"/><use href="#h" x="953.3"/><use href="#h" x="937.6"/><use href="#h" x="922"/></g><g transform="translate(0 1197)"><use href="#h" x="1375.3"/><use href="#h" x="1359.6"/><use href="#h" x="1344"/><use href="#h" x="1328.4"/><use href="#h" x="1312.8"/><use href="#h" x="1297.1"/><use href="#h" x="1281.5"/><use href="#h" x="1265.9"/><use href="#h" x="1250.2"/><use href="#h" x="1234.6"/><use href="#h" x="1219"/><use href="#h" x="1203.3"/><use href="#h" x="1187.7"/><use href="#h" x="1172.1"/><use href="#h" x="1156.5"/><use href="#h" x="1140.8"/><use href="#h" x="1125.2"/><use href="#h" x="1109.6"/><use href="#h" x="1093.9"/><use href="#h" x="1078.3"/><use href="#h" x="1062.7"/><use href="#h" x="1047"/><use href="#h" x="1031.4"/><use href="#h" x="1015.8"/><use href="#h" x="1000.1"/><use href="#h" x="984.5"/><use href="#h" x="968.9"/><use href="#h" x="953.3"/><use href="#h" x="937.6"/><use href="#h" x="922"/></g><path d="M913.5 889.6 H1384.2" stroke="#ff0000" stroke-width="1.6"/><path d="M913.5 926.4 H1384.2" stroke="#1a9bb6" stroke-width="1.6"/><path d="M913.5 1170.8 H1384.2" stroke="#ff0000" stroke-width="1.6"/><path d="M913.5 1207.5 H1384.2" stroke="#1a9bb6" stroke-width="1.6"/><g font-size="10.6" fill="#111" text-anchor="middle" font-family="Liberation Sans, sans-serif"><text transform="translate(1371.7 939.5) rotate(90)">1</text><text transform="translate(1371.7 1158.6) rotate(90)">1</text><text transform="translate(1356 939.5) rotate(90)">2</text><text transform="translate(1356 1158.6) rotate(90)">2</text><text transform="translate(1340.4 939.5) rotate(90)">3</text><text transform="translate(1340.4 1158.6) rotate(90)">3</text><text transform="translate(1324.8 939.5) rotate(90)">4</text><text transform="translate(1324.8 1158.6) rotate(90)">4</text><text transform="translate(1309.2 939.5) rotate(90)">5</text><text transform="translate(1309.2 1158.6) rotate(90)">5</text><text transform="translate(1293.5 939.5) rotate(90)">6</text><text transform="translate(1293.5 1158.6) rotate(90)">6</text><text transform="translate(1277.9 939.5) rotate(90)">7</text><text transform="translate(1277.9 1158.6) rotate(90)">7</text><text transform="translate(1262.3 939.5) rotate(90)">8</text><text transform="translate(1262.3 1158.6) rotate(90)">8</text><text transform="translate(1246.6 939.5) rotate(90)">9</text><text transform="translate(1246.6 1158.6) rotate(90)">9</text><text transform="translate(1231 939.5) rotate(90)">10</text><text transform="translate(1231 1158.6) rotate(90)">10</text><text transform="translate(1215.4 939.5) rotate(90)">11</text><text transform="translate(1215.4 1158.6) rotate(90)">11</text><text transform="translate(1199.7 939.5) rotate(90)">12</text><text transform="translate(1199.7 1158.6) rotate(90)">12</text><text transform="translate(1184.1 939.5) rotate(90)">13</text><text transform="translate(1184.1 1158.6) rotate(90)">13</text><text transform="translate(1168.5 939.5) rotate(90)">14</text><text transform="translate(1168.5 1158.6) rotate(90)">14</text><text transform="translate(1152.9 939.5) rotate(90)">15</text><text transform="translate(1152.9 1158.6) rotate(90)">15</text><text transform="translate(1137.2 939.5) rotate(90)">16</text><text transform="translate(1137.2 1158.6) rotate(90)">16</text><text transform="translate(1121.6 939.5) rotate(90)">17</text><text transform="translate(1121.6 1158.6) rotate(90)">17</text><text transform="translate(1106 939.5) rotate(90)">18</text><text transform="translate(1106 1158.6) rotate(90)">18</text><text transform="translate(1090.3 939.5) rotate(90)">19</text><text transform="translate(1090.3 1158.6) rotate(90)">19</text><text transform="translate(1074.7 939.5) rotate(90)">20</text><text transform="translate(1074.7 1158.6) rotate(90)">20</text><text transform="translate(1059.1 939.5) rotate(90)">21</text><text transform="translate(1059.1 1158.6) rotate(90)">21</text><text transform="translate(1043.4 939.5) rotate(90)">22</text><text transform="translate(1043.4 1158.6) rotate(90)">22</text><text transform="translate(1027.8 939.5) rotate(90)">23</text><text transform="translate(1027.8 1158.6) rotate(90)">23</text><text transform="translate(1012.2 939.5) rotate(90)">24</text><text transform="translate(1012.2 1158.6) rotate(90)">24</text><text transform="translate(996.5 939.5) rotate(90)">25</text><text transform="translate(996.5 1158.6) rotate(90)">25</text><text transform="translate(980.9 939.5) rotate(90)">26</text><text transform="translate(980.9 1158.6) rotate(90)">26</text><text transform="translate(965.3 939.5) rotate(90)">27</text><text transform="translate(965.3 1158.6) rotate(90)">27</text><text transform="translate(949.7 939.5) rotate(90)">28</text><text transform="translate(949.7 1158.6) rotate(90)">28</text><text transform="translate(934 939.5) rotate(90)">29</text><text transform="translate(934 1158.6) rotate(90)">29</text><text transform="translate(918.4 939.5) rotate(90)">30</text><text transform="translate(918.4 1158.6) rotate(90)">30</text></g><g font-size="10.5" font-weight="bold" fill="#222" text-anchor="middle" font-family="Liberation Mono, monospace"><text transform="translate(905.6 962.8) rotate(90)">A</text><text transform="translate(1384.8 962.8) rotate(90)">A</text><text transform="translate(905.6 978.4) rotate(90)">B</text><text transform="translate(1384.8 978.4) rotate(90)">B</text><text transform="translate(905.6 994.1) rotate(90)">C</text><text transform="translate(1384.8 994.1) rotate(90)">C</text><text transform="translate(905.6 1009.7) rotate(90)">D</text><text transform="translate(1384.8 1009.7) rotate(90)">D</text><text transform="translate(905.6 1025.3) rotate(90)">E</text><text transform="translate(1384.8 1025.3) rotate(90)">E</text><text transform="translate(905.6 1072.2) rotate(90)">F</text><text transform="translate(1384.8 1072.2) rotate(90)">F</text><text transform="translate(905.6 1087.8) rotate(90)">G</text><text transform="translate(1384.8 1087.8) rotate(90)">G</text><text transform="translate(905.6 1103.5) rotate(90)">H</text><text transform="translate(1384.8 1103.5) rotate(90)">H</text><text transform="translate(905.6 1119.1) rotate(90)">I</text><text transform="translate(1384.8 1119.1) rotate(90)">I</text><text transform="translate(905.6 1134.7) rotate(90)">J</text><text transform="translate(1384.8 1134.7) rotate(90)">J</text></g></g>
<g id="cap"><defs><linearGradient id="capg" x1="0" y1="0" x2="0" y2="1"><stop offset="0" stop-color="#1b1060"/><stop offset="0.25" stop-color="#0b0338"/><stop offset="0.8" stop-color="#0b0338"/><stop offset="1" stop-color="#3a3a8a"/></linearGradient></defs><path d="M1080 900.6H1092 M1080 916.1H1092" stroke="#a0a0a0" stroke-width="3.4"/><path d="M1088 900.6H1109 M1088 916.1H1109" stroke="#111" stroke-width="2.2"/><text transform="translate(1007.3 934.3) rotate(-90)" font-size="11.5" fill="#3f9ce8" textLength="47.8" lengthAdjust="spacingAndGlyphs">450 µF</text><rect x="1014" y="892.6" width="67.5" height="28.8" rx="9" fill="url(#capg)"/><path d="M1066 893 Q1072 907 1066 921" stroke="#2a2478" stroke-width="1.5" fill="none"/><path d="M1018 918 Q1040 923 1070 920.5" stroke="#cfe8ff" stroke-width="1.6" fill="none" opacity=".85"/><ellipse cx="1021.5" cy="907.5" rx="7.2" ry="10.6" fill="#b9b9b9" stroke="#0b0338" stroke-width="2.2"/><circle cx="1109.5" cy="900.6" r="4.3" fill="#0a20e0"/><circle cx="1109.5" cy="916.1" r="4.3" fill="#0a20e0"/></g>
<g id="lcd"><defs><radialGradient id="lh"><stop offset="0" stop-color="#fff"/><stop offset="0.5" stop-color="#fbf8f0"/><stop offset="0.68" stop-color="#a69a78"/><stop offset="0.85" stop-color="#4f7f45"/><stop offset="1" stop-color="#207e37"/></radialGradient><linearGradient id="lg" x1="0" y1="0" x2="1" y2="1"><stop offset="0" stop-color="#21803a"/><stop offset="0.5" stop-color="#1c7c34"/><stop offset="1" stop-color="#26853e"/></linearGradient></defs><rect x="292.9" y="1028.1" width="410" height="245" fill="url(#lg)"/><rect x="323.8" y="1029.8" width="5.8" height="10.4" rx="2.8" fill="#8f9468"/><rect x="325.3" y="1031.6" width="2.8" height="6.4" rx="1.4" fill="#6d6443"/><rect x="336.9" y="1029.8" width="5.8" height="10.4" rx="2.8" fill="#8f9468"/><rect x="338.4" y="1031.6" width="2.8" height="6.4" rx="1.4" fill="#6d6443"/><rect x="350" y="1029.8" width="5.8" height="10.4" rx="2.8" fill="#8f9468"/><rect x="351.5" y="1031.6" width="2.8" height="6.4" rx="1.4" fill="#6d6443"/><rect x="363.1" y="1029.8" width="5.8" height="10.4" rx="2.8" fill="#8f9468"/><rect x="364.6" y="1031.6" width="2.8" height="6.4" rx="1.4" fill="#6d6443"/><rect x="376.2" y="1029.8" width="5.8" height="10.4" rx="2.8" fill="#8f9468"/><rect x="377.7" y="1031.6" width="2.8" height="6.4" rx="1.4" fill="#6d6443"/><rect x="389.4" y="1029.8" width="5.8" height="10.4" rx="2.8" fill="#8f9468"/><rect x="390.9" y="1031.6" width="2.8" height="6.4" rx="1.4" fill="#6d6443"/><rect x="402.5" y="1029.8" width="5.8" height="10.4" rx="2.8" fill="#8f9468"/><rect x="404" y="1031.6" width="2.8" height="6.4" rx="1.4" fill="#6d6443"/><rect x="415.6" y="1029.8" width="5.8" height="10.4" rx="2.8" fill="#8f9468"/><rect x="417.1" y="1031.6" width="2.8" height="6.4" rx="1.4" fill="#6d6443"/><rect x="428.7" y="1029.8" width="5.8" height="10.4" rx="2.8" fill="#8f9468"/><rect x="430.2" y="1031.6" width="2.8" height="6.4" rx="1.4" fill="#6d6443"/><rect x="441.8" y="1029.8" width="5.8" height="10.4" rx="2.8" fill="#8f9468"/><rect x="443.3" y="1031.6" width="2.8" height="6.4" rx="1.4" fill="#6d6443"/><rect x="454.9" y="1029.8" width="5.8" height="10.4" rx="2.8" fill="#8f9468"/><rect x="456.4" y="1031.6" width="2.8" height="6.4" rx="1.4" fill="#6d6443"/><rect x="468" y="1029.8" width="5.8" height="10.4" rx="2.8" fill="#8f9468"/><rect x="469.5" y="1031.6" width="2.8" height="6.4" rx="1.4" fill="#6d6443"/><rect x="481.1" y="1029.8" width="5.8" height="10.4" rx="2.8" fill="#8f9468"/><rect x="482.6" y="1031.6" width="2.8" height="6.4" rx="1.4" fill="#6d6443"/><rect x="494.2" y="1029.8" width="5.8" height="10.4" rx="2.8" fill="#8f9468"/><rect x="495.7" y="1031.6" width="2.8" height="6.4" rx="1.4" fill="#6d6443"/><rect x="507.3" y="1029.8" width="5.8" height="10.4" rx="2.8" fill="#8f9468"/><rect x="508.8" y="1031.6" width="2.8" height="6.4" rx="1.4" fill="#6d6443"/><rect x="520.4" y="1029.8" width="5.8" height="10.4" rx="2.8" fill="#8f9468"/><rect x="521.9" y="1031.6" width="2.8" height="6.4" rx="1.4" fill="#6d6443"/><circle cx="303.6" cy="1039.8" r="9.4" fill="url(#lh)"/><circle cx="303.6" cy="1262.3" r="9.4" fill="url(#lh)"/><circle cx="691.4" cy="1039.8" r="9.4" fill="url(#lh)"/><circle cx="691.4" cy="1262.3" r="9.4" fill="url(#lh)"/><rect x="341" y="1049.5" width="30" height="2" fill="#a8dcb4"/><rect x="341" y="1250" width="30" height="2" fill="#a8dcb4"/><rect x="483" y="1049.5" width="30" height="2" fill="#a8dcb4"/><rect x="483" y="1250" width="30" height="2" fill="#a8dcb4"/><rect x="625" y="1049.5" width="30" height="2" fill="#a8dcb4"/><rect x="625" y="1250" width="30" height="2" fill="#a8dcb4"/><rect x="310.2" y="1051.4" width="377.2" height="198" rx="5" fill="#2c2c2c"/><rect x="317" y="1057.6" width="363.6" height="185.6" rx="6" fill="none" stroke="#1b1b1f" stroke-width="4.4"/><rect x="319.4" y="1060" width="358.8" height="180.8" rx="8" fill="#353530"/><rect x="327.4" y="1073" width="347" height="154" rx="9.5" fill="#2c2c28"/><rect x="328.2" y="1074.4" width="345.4" height="151.6" rx="9" fill="#8bb236"/><rect x="345.8" y="1088.2" width="312.2" height="123" fill="#7ba032"/><g stroke="#84aa36" stroke-width="0.9" opacity=".7"><path d="M365.3 1088.2V1211.2"/><path d="M384.8 1088.2V1211.2"/><path d="M404.3 1088.2V1211.2"/><path d="M423.9 1088.2V1211.2"/><path d="M443.4 1088.2V1211.2"/><path d="M462.9 1088.2V1211.2"/><path d="M482.4 1088.2V1211.2"/><path d="M501.9 1088.2V1211.2"/><path d="M521.4 1088.2V1211.2"/><path d="M540.9 1088.2V1211.2"/><path d="M560.4 1088.2V1211.2"/><path d="M580 1088.2V1211.2"/><path d="M599.5 1088.2V1211.2"/><path d="M619 1088.2V1211.2"/><path d="M638.5 1088.2V1211.2"/><path d="M345.8 1119H658"/><path d="M345.8 1149.7H658"/><path d="M345.8 1180.5H658"/></g><g font-size="5" fill="#9fd8a8" opacity=".75" font-family="Liberation Sans, sans-serif"><text x="300" y="1057.5">GND</text><text x="300" y="1070">VCC</text><text x="300" y="1081.5">SDA</text><text x="300" y="1094.5">SCL</text></g></g>
<g id="uno" transform="translate(610 1340) scale(0.25602)" font-family="Liberation Sans, sans-serif"><path d="M255 113H1800L1830 145V430L1890 490V1290L1830 1350V1385L1820 1395H255L243 1383V125Z" fill="#11728f"/><circle cx="608" cy="174" r="38" fill="#fff"/><circle cx="1830" cy="540" r="38" fill="#fff"/><circle cx="1830" cy="1210" r="38" fill="#fff"/><circle cx="578" cy="1333" r="38" fill="#fff"/><rect x="663" y="145" width="610" height="58" fill="#3c3c3c"/><rect x="1311" y="145" width="489" height="58" fill="#3c3c3c"/><rect x="883" y="1303" width="488" height="59" fill="#3c3c3c"/><rect x="1433" y="1303" width="367" height="59" fill="#3c3c3c"/><circle cx="695" cy="175" r="16.5" fill="#868686"/><circle cx="756" cy="175" r="16.5" fill="#868686"/><circle cx="817" cy="175" r="16.5" fill="#868686"/><circle cx="878.1" cy="175" r="16.5" fill="#868686"/><circle cx="939.1" cy="175" r="16.5" fill="#868686"/><circle cx="1000.1" cy="175" r="16.5" fill="#868686"/><circle cx="1061.1" cy="175" r="16.5" fill="#868686"/><circle cx="1122.1" cy="175" r="16.5" fill="#868686"/><circle cx="1183.2" cy="175" r="16.5" fill="#868686"/><circle cx="1244.2" cy="175" r="16.5" fill="#868686"/><circle cx="1341" cy="175" r="16.5" fill="#868686"/><circle cx="1402" cy="175" r="16.5" fill="#868686"/><circle cx="1463" cy="175" r="16.5" fill="#868686"/><circle cx="1524.1" cy="175" r="16.5" fill="#868686"/><circle cx="1585.1" cy="175" r="16.5" fill="#868686"/><circle cx="1646.1" cy="175" r="16.5" fill="#868686"/><circle cx="1707.1" cy="175" r="16.5" fill="#868686"/><circle cx="1768.1" cy="175" r="16.5" fill="#868686"/><circle cx="914" cy="1333" r="16.5" fill="#868686"/><circle cx="975" cy="1333" r="16.5" fill="#868686"/><circle cx="1036" cy="1333" r="16.5" fill="#868686"/><circle cx="1097.1" cy="1333" r="16.5" fill="#868686"/><circle cx="1158.1" cy="1333" r="16.5" fill="#868686"/><circle cx="1219.1" cy="1333" r="16.5" fill="#868686"/><circle cx="1280.1" cy="1333" r="16.5" fill="#868686"/><circle cx="1341.1" cy="1333" r="16.5" fill="#868686"/><circle cx="1463" cy="1333" r="16.5" fill="#868686"/><circle cx="1524" cy="1333" r="16.5" fill="#868686"/><circle cx="1585" cy="1333" r="16.5" fill="#868686"/><circle cx="1646.1" cy="1333" r="16.5" fill="#868686"/><circle cx="1707.1" cy="1333" r="16.5" fill="#868686"/><circle cx="1768.1" cy="1333" r="16.5" fill="#868686"/><rect x="276" y="140" width="222" height="20" fill="#e8e8e8"/><rect x="276" y="188" width="30" height="20" fill="#e8e8e8"/><rect x="276" y="240" width="222" height="20" fill="#e8e8e8"/><rect x="300" y="125" width="174" height="147" fill="#d2d2d2"/><circle cx="386" cy="198" r="44" fill="#8a2424"/><text x="380" y="313" font-size="36" fill="#e4f0f4" text-anchor="middle">RESET</text><rect x="243" y="308" width="38" height="36" fill="#a8a8a8"/><rect x="243" y="614" width="38" height="38" fill="#a8a8a8"/><rect x="92" y="342" width="375" height="273" fill="#b2b2b2"/><rect x="92" y="342" width="63" height="273" fill="#979797"/><rect x="92" y="342" width="375" height="16" fill="#9c9c9c"/><rect x="92" y="600" width="375" height="15" fill="#a4a4a4"/><rect x="590" y="225" width="60" height="118" rx="16" fill="#3a3a3a"/><rect x="610" y="245" width="20" height="20" fill="#b5a46c"/><rect x="610" y="305" width="20" height="20" fill="#b5a46c"/><rect x="651" y="225" width="60" height="118" rx="16" fill="#3a3a3a"/><rect x="671" y="245" width="20" height="20" fill="#b5a46c"/><rect x="671" y="305" width="20" height="20" fill="#b5a46c"/><rect x="712" y="225" width="60" height="118" rx="16" fill="#3a3a3a"/><rect x="732" y="245" width="20" height="20" fill="#b5a46c"/><rect x="732" y="305" width="20" height="20" fill="#b5a46c"/><circle cx="772" cy="223" r="7" fill="#fff" stroke="#3a3a3a" stroke-width="3"/><text x="644" y="386" font-size="35" fill="#e4f0f4" text-anchor="middle">ICSP2</text><rect x="662" y="502" width="119" height="118" fill="#343434"/><rect x="878" y="387" width="64" height="32" fill="#e8d9a8"/><rect x="888" y="390" width="44" height="26" fill="#f6f0e0"/><rect x="878" y="499" width="64" height="32" fill="#e8d9a8"/><rect x="888" y="502" width="44" height="26" fill="#f6f0e0"/><rect x="878" y="554" width="64" height="32" fill="#e8d9a8"/><rect x="888" y="557" width="44" height="26" fill="#f6f0e0"/><rect x="1635" y="501" width="64" height="32" fill="#e8d9a8"/><rect x="1645" y="504" width="44" height="26" fill="#f6f0e0"/><g font-size="42" fill="#e8f4f8"><text x="832" y="421">L</text><text x="803" y="531">TX</text><text x="803" y="590">RX</text><text x="1705" y="532">ON</text></g><g font-size="33" fill="#e4f0f4" text-anchor="end"><text transform="translate(828 222) rotate(-90)">AREF</text><text transform="translate(889 222) rotate(-90)">GND</text><text transform="translate(950 222) rotate(-90)">13</text><text transform="translate(1011.1 222) rotate(-90)">12</text><text transform="translate(1072.1 222) rotate(-90)">~11</text><text transform="translate(1133.1 222) rotate(-90)">~10</text><text transform="translate(1194.1 222) rotate(-90)">~9</text><text transform="translate(1255.1 222) rotate(-90)">8</text><text transform="translate(1352 222) rotate(-90)">7</text><text transform="translate(1413 222) rotate(-90)">~6</text><text transform="translate(1474 222) rotate(-90)">~5</text><text transform="translate(1535.1 222) rotate(-90)">4</text><text transform="translate(1596.1 222) rotate(-90)">~3</text><text transform="translate(1657.1 222) rotate(-90)">2</text><text transform="translate(1718.1 222) rotate(-90)">1</text><text transform="translate(1779.1 222) rotate(-90)">0</text><text transform="translate(1718 345) rotate(-90)" text-anchor="start">TX0</text><text transform="translate(1779 345) rotate(-90)" text-anchor="start">RX0</text></g><path d="M1697 264L1709 247L1721 264Z M1758 249L1770 266L1782 249Z" fill="#fff"/><text x="1320" y="345" font-size="31" fill="#e4f0f4">DIGITAL (PWM=</text><text x="1615" y="345" font-size="31" fill="#e4f0f4">~)</text><rect x="875" y="355" width="910" height="6" fill="#fff"/><path d="M1157 452C1122 397 1080 394 1048 410C1015 430 1015 475 1048 495C1080 512 1122 507 1157 452C1192 397 1234 394 1266 410C1299 430 1299 475 1266 495C1234 512 1192 507 1157 452Z" fill="none" stroke="#fff" stroke-width="27"/><rect x="1064" y="446" width="44" height="12" fill="#fff"/><rect x="1206" y="446" width="46" height="12" fill="#fff"/><rect x="1223" y="429" width="12" height="46" fill="#fff"/><rect x="1327" y="385" width="282" height="133" rx="66" fill="none" stroke="#fff" stroke-width="8.5" stroke-linecap="round" stroke-dasharray="0.1 12.2"/><text x="1468" y="492" font-size="112" fill="#fff" text-anchor="middle" textLength="218" lengthAdjust="spacingAndGlyphs">UNO</text><text x="1014" y="581" font-size="51" fill="#fff">Arduino</text><text x="1268" y="550" font-size="17" fill="#fff">TM</text><rect x="1742" y="633" width="120" height="59" rx="16" fill="#3a3a3a"/><rect x="1761" y="652" width="20" height="20" fill="#b5a46c"/><rect x="1822" y="652" width="20" height="20" fill="#b5a46c"/><rect x="1742" y="693" width="120" height="59" rx="16" fill="#3a3a3a"/><rect x="1761" y="712" width="20" height="20" fill="#b5a46c"/><rect x="1822" y="712" width="20" height="20" fill="#b5a46c"/><rect x="1742" y="753" width="120" height="59" rx="16" fill="#3a3a3a"/><rect x="1761" y="772" width="20" height="20" fill="#b5a46c"/><rect x="1822" y="772" width="20" height="20" fill="#b5a46c"/><text x="1712" y="660" font-size="30" fill="#e4f0f4">1</text><text transform="translate(1729 816) rotate(-90)" font-size="31" fill="#e4f0f4">ICSP</text><rect x="910" y="934" width="892" height="132" fill="#333333"/><rect x="340" y="935" width="48" height="85" fill="#a6a6a6"/><rect x="466" y="906" width="46" height="30" fill="#a6a6a6"/><rect x="466" y="962" width="46" height="30" fill="#a6a6a6"/><rect x="466" y="1017" width="46" height="30" fill="#a6a6a6"/><rect x="385" y="895" width="83" height="160" fill="#303030"/><circle cx="452" cy="1040" r="5" fill="#222"/><rect x="202" y="1100" width="316" height="212" rx="4" fill="#262626"/><rect x="202" y="1100" width="64" height="212" fill="#1c1c1c"/><path d="M266 1142H380C420 1142 440 1170 440 1206C440 1242 420 1270 380 1270H266Z" fill="#2e2e2e"/><rect x="518" y="1160" width="14" height="90" fill="#444"/><path d="M625 1098H745L763 1118V1252H607V1118Z" fill="#3a3a3a"/><circle cx="685" cy="1175" r="75" fill="#e6e6e6"/><path d="M627 1222A75 75 0 0 0 743 1222Z" fill="#111"/><rect x="681" y="1086" width="8" height="8" fill="#ddd"/><rect x="681" y="1254" width="8" height="8" fill="#ddd"/><path d="M795 1098H915L933 1118V1252H777V1118Z" fill="#3a3a3a"/><circle cx="855" cy="1175" r="75" fill="#e6e6e6"/><path d="M797 1222A75 75 0 0 0 913 1222Z" fill="#111"/><rect x="851" y="1086" width="8" height="8" fill="#ddd"/><rect x="851" y="1254" width="8" height="8" fill="#ddd"/><rect x="1063" y="1180" width="310" height="6" fill="#fff"/><rect x="1444" y="1180" width="341" height="6" fill="#fff"/><text x="1376" y="1222" font-size="31" fill="#e4f0f4" text-anchor="end">POWER</text><text x="1748" y="1222" font-size="31" fill="#e4f0f4" text-anchor="end">ANALOG IN</text><g font-size="28" fill="#e4f0f4"><text transform="translate(985 1290) rotate(-90)">IOREF</text><text transform="translate(1046 1290) rotate(-90)">RESET</text><text transform="translate(1107 1290) rotate(-90)">3V3</text><text transform="translate(1168.1 1290) rotate(-90)">5V</text><text transform="translate(1229.1 1290) rotate(-90)">GND</text><text transform="translate(1290.1 1290) rotate(-90)">GND</text><text transform="translate(1351.1 1290) rotate(-90)">VIN</text><text transform="translate(1473 1290) rotate(-90)">A0</text><text transform="translate(1534 1290) rotate(-90)">A1</text><text transform="translate(1595 1290) rotate(-90)">A2</text><text transform="translate(1656.1 1290) rotate(-90)">A3</text><text transform="translate(1717.1 1290) rotate(-90)">A4</text><text transform="translate(1778.1 1290) rotate(-90)">A5</text></g></g>
<use href="#mservo" x="1000.4" y="155.8"/>
<use href="#mservo" x="1210.3" y="160"/>
<use href="#mservo" x="1429.4" y="160"/>
<use href="#bservo" x="1799.5" y="808.2"/>
<use href="#bservo" x="1799.5" y="995.5"/>
<use href="#bservo" x="1799.5" y="1183.2"/>
<use href="#joy" x="1124.1" y="1835.3"/>
<use href="#joy" x="1436.3" y="1835.3"/>
<use href="#joy" x="1764.3" y="1835.3"/>
<g transform="translate(1125.3 728.5) rotate(-90)"><path d="M-15.55 0V-17.5C-15.55 -21 -7 -22.5 -7 -24.3C-7 -26.5 -15.55 -27.5 -15.55 -31V-42 M15.55 0V-17.5C15.55 -21 7 -22.5 7 -24.3C7 -26.5 15.55 -27.5 15.55 -31V-42" stroke="#8e8e8e" stroke-width="4.2" fill="none" stroke-linecap="butt"/><circle cx="0" cy="-51.8" r="14.1" fill="#c87a20"/><path d="M-17.5 -41.5C-17.5 -45 -15 -47 -13.6 -51L13.6 -51C15 -47 17.5 -45 17.5 -41.5C17.5 -39.5 15.5 -39 13.4 -39.3C11 -39.6 10 -40.5 9 -41C5 -36.8 -5 -36.8 -9 -41C-10 -40.5 -11 -39.6 -13.4 -39.3C-15.5 -39 -17.5 -39.5 -17.5 -41.5Z" fill="#c87a20"/><path d="M-9.5 -41.3C-5 -37 5 -37 9.5 -41.3C5 -39.6 -5 -39.6 -9.5 -41.3Z" fill="#b0651a"/><ellipse cx="-3.5" cy="-62.5" rx="1.8" ry="0.9" fill="#f3d6ad"/></g>
<g transform="translate(1203.3 666) rotate(0)"><path d="M-15.55 0V-17.5C-15.55 -21 -7 -22.5 -7 -24.3C-7 -26.5 -15.55 -27.5 -15.55 -31V-42 M15.55 0V-17.5C15.55 -21 7 -22.5 7 -24.3C7 -26.5 15.55 -27.5 15.55 -31V-42" stroke="#8e8e8e" stroke-width="4.2" fill="none" stroke-linecap="butt"/><circle cx="0" cy="-51.8" r="14.1" fill="#c87a20"/><path d="M-17.5 -41.5C-17.5 -45 -15 -47 -13.6 -51L13.6 -51C15 -47 17.5 -45 17.5 -41.5C17.5 -39.5 15.5 -39 13.4 -39.3C11 -39.6 10 -40.5 9 -41C5 -36.8 -5 -36.8 -9 -41C-10 -40.5 -11 -39.6 -13.4 -39.3C-15.5 -39 -17.5 -39.5 -17.5 -41.5Z" fill="#c87a20"/><path d="M-9.5 -41.3C-5 -37 5 -37 9.5 -41.3C5 -39.6 -5 -39.6 -9.5 -41.3Z" fill="#b0651a"/><ellipse cx="-3.5" cy="-62.5" rx="1.8" ry="0.9" fill="#f3d6ad"/></g>
<g transform="translate(1359.5 681.4) rotate(0)"><path d="M-15.55 0V-17.5C-15.55 -21 -7 -22.5 -7 -24.3C-7 -26.5 -15.55 -27.5 -15.55 -31V-42 M15.55 0V-17.5C15.55 -21 7 -22.5 7 -24.3C7 -26.5 15.55 -27.5 15.55 -31V-42" stroke="#8e8e8e" stroke-width="4.2" fill="none" stroke-linecap="butt"/><circle cx="0" cy="-51.8" r="14.1" fill="#c87a20"/><path d="M-17.5 -41.5C-17.5 -45 -15 -47 -13.6 -51L13.6 -51C15 -47 17.5 -45 17.5 -41.5C17.5 -39.5 15.5 -39 13.4 -39.3C11 -39.6 10 -40.5 9 -41C5 -36.8 -5 -36.8 -9 -41C-10 -40.5 -11 -39.6 -13.4 -39.3C-15.5 -39 -17.5 -39.5 -17.5 -41.5Z" fill="#c87a20"/><path d="M-9.5 -41.3C-5 -37 5 -37 9.5 -41.3C5 -39.6 -5 -39.6 -9.5 -41.3Z" fill="#b0651a"/><ellipse cx="-3.5" cy="-62.5" rx="1.8" ry="0.9" fill="#f3d6ad"/></g>
<g transform="translate(1734.4 853.1) rotate(90)"><path d="M-15.55 0V-17.5C-15.55 -21 -7 -22.5 -7 -24.3C-7 -26.5 -15.55 -27.5 -15.55 -31V-42 M15.55 0V-17.5C15.55 -21 7 -22.5 7 -24.3C7 -26.5 15.55 -27.5 15.55 -31V-42" stroke="#8e8e8e" stroke-width="4.2" fill="none" stroke-linecap="butt"/><circle cx="0" cy="-51.8" r="14.1" fill="#c87a20"/><path d="M-17.5 -41.5C-17.5 -45 -15 -47 -13.6 -51L13.6 -51C15 -47 17.5 -45 17.5 -41.5C17.5 -39.5 15.5 -39 13.4 -39.3C11 -39.6 10 -40.5 9 -41C5 -36.8 -5 -36.8 -9 -41C-10 -40.5 -11 -39.6 -13.4 -39.3C-15.5 -39 -17.5 -39.5 -17.5 -41.5Z" fill="#c87a20"/><path d="M-9.5 -41.3C-5 -37 5 -37 9.5 -41.3C5 -39.6 -5 -39.6 -9.5 -41.3Z" fill="#b0651a"/><ellipse cx="-3.5" cy="-62.5" rx="1.8" ry="0.9" fill="#f3d6ad"/></g>
<g transform="translate(1734.4 1009.5) rotate(90)"><path d="M-15.55 0V-17.5C-15.55 -21 -7 -22.5 -7 -24.3C-7 -26.5 -15.55 -27.5 -15.55 -31V-42 M15.55 0V-17.5C15.55 -21 7 -22.5 7 -24.3C7 -26.5 15.55 -27.5 15.55 -31V-42" stroke="#8e8e8e" stroke-width="4.2" fill="none" stroke-linecap="butt"/><circle cx="0" cy="-51.8" r="14.1" fill="#c87a20"/><path d="M-17.5 -41.5C-17.5 -45 -15 -47 -13.6 -51L13.6 -51C15 -47 17.5 -45 17.5 -41.5C17.5 -39.5 15.5 -39 13.4 -39.3C11 -39.6 10 -40.5 9 -41C5 -36.8 -5 -36.8 -9 -41C-10 -40.5 -11 -39.6 -13.4 -39.3C-15.5 -39 -17.5 -39.5 -17.5 -41.5Z" fill="#c87a20"/><path d="M-9.5 -41.3C-5 -37 5 -37 9.5 -41.3C5 -39.6 -5 -39.6 -9.5 -41.3Z" fill="#b0651a"/><ellipse cx="-3.5" cy="-62.5" rx="1.8" ry="0.9" fill="#f3d6ad"/></g>
<g transform="translate(1718.5 1196.8) rotate(90)"><path d="M-15.55 0V-17.5C-15.55 -21 -7 -22.5 -7 -24.3C-7 -26.5 -15.55 -27.5 -15.55 -31V-42 M15.55 0V-17.5C15.55 -21 7 -22.5 7 -24.3C7 -26.5 15.55 -27.5 15.55 -31V-42" stroke="#8e8e8e" stroke-width="4.2" fill="none" stroke-linecap="butt"/><circle cx="0" cy="-51.8" r="14.1" fill="#c87a20"/><path d="M-17.5 -41.5C-17.5 -45 -15 -47 -13.6 -51L13.6 -51C15 -47 17.5 -45 17.5 -41.5C17.5 -39.5 15.5 -39 13.4 -39.3C11 -39.6 10 -40.5 9 -41C5 -36.8 -5 -36.8 -9 -41C-10 -40.5 -11 -39.6 -13.4 -39.3C-15.5 -39 -17.5 -39.5 -17.5 -41.5Z" fill="#c87a20"/><path d="M-9.5 -41.3C-5 -37 5 -37 9.5 -41.3C5 -39.6 -5 -39.6 -9.5 -41.3Z" fill="#b0651a"/><ellipse cx="-3.5" cy="-62.5" rx="1.8" ry="0.9" fill="#f3d6ad"/></g>
<g font-weight="bold" font-size="21.5" fill="#000" stroke="#000" stroke-width="0.7"><text x="1010" y="132.9" textLength="61.8" lengthAdjust="spacingAndGlyphs">Pince</text><text x="1164.7" y="137.6" textLength="172.4" lengthAdjust="spacingAndGlyphs">Pas du poignet</text><text x="1387.6" y="141.5" textLength="225.1" lengthAdjust="spacingAndGlyphs">Rouleau de poignet</text><text x="374.8" y="384.7" textLength="313" lengthAdjust="spacingAndGlyphs">batterie lipo 2200mAH 30c</text><text x="380.4" y="681.6" textLength="533.2" lengthAdjust="spacingAndGlyphs">régulateur de tension abaisseur de 48 V à 5 V</text><text x="861" y="861" textLength="241.9" lengthAdjust="spacingAndGlyphs">Condensateur 450uF</text><text x="1296.4" y="733.9" textLength="261.2" lengthAdjust="spacingAndGlyphs">Fusible réarmable PTC</text><text x="2215.2" y="865.8" textLength="71.6" lengthAdjust="spacingAndGlyphs">Coude</text><text x="2223.9" y="1063.5" textLength="76.7" lengthAdjust="spacingAndGlyphs">Epaule</text><text x="2232.9" y="1245.2" textLength="62.6" lengthAdjust="spacingAndGlyphs">Taille</text><text x="710" y="1769" textLength="220.2" lengthAdjust="spacingAndGlyphs">Carte Arduino UNO</text><text x="1196.5" y="2076.4" textLength="12" lengthAdjust="spacingAndGlyphs">1</text><text x="1511" y="2073.6" textLength="13" lengthAdjust="spacingAndGlyphs">2</text><text x="1842.5" y="2073.1" textLength="13" lengthAdjust="spacingAndGlyphs">3</text><text x="1175.2" y="2119.5" textLength="62.5" lengthAdjust="spacingAndGlyphs">Taille</text><text x="1478.8" y="2120.9" textLength="71.8" lengthAdjust="spacingAndGlyphs">Coude</text><text x="1760.5" y="2121.8" textLength="172.3" lengthAdjust="spacingAndGlyphs">Pas de poignet</text><text x="1169.7" y="2162.9" textLength="76.8" lengthAdjust="spacingAndGlyphs">Epaule</text><text x="1407.4" y="2161.5" textLength="225.6" lengthAdjust="spacingAndGlyphs">Rouleau de poignet</text><text x="1815.8" y="2162.2" textLength="62.4" lengthAdjust="spacingAndGlyphs">Pince</text><text x="1288" y="2226.5" textLength="492.6" lengthAdjust="spacingAndGlyphs">Le module de joystick à deux axes KY-023</text></g>
<path d="M249.7 509.4 L262.6 509.4 Q273.6 509.4 273.6 520.4 L273.6 717.5 Q273.6 728.5 284.6 728.5 L313 728.5" stroke="#ff0000" stroke-width="3.8" fill="none" stroke-linecap="round"/>
<path d="M258.2 533.5 L258.2 782.4 Q258.2 791.4 267.2 791.4 L313.6 791.4" stroke="#000000" stroke-width="3.8" fill="none" stroke-linecap="round"/>
<path d="M405.5 728.3 L516 728.3" stroke="#ff0000" stroke-width="3.8" fill="none" stroke-linecap="round"/>
<path d="M405.5 791.4 L435.2 791.4 Q444.8 791.4 444.8 801 L444.8 820 Q444.8 829.6 454.4 829.6 L516 829.6" stroke="#000000" stroke-width="3.8" fill="none" stroke-linecap="round"/>
<path d="M735 728.3 L826.6 728.3 Q836.2 728.3 836.2 737.9 L836.2 891 Q836.2 900.6 845.8 900.6 L922 900.6" stroke="#ff0000" stroke-width="3.8" fill="none" stroke-linecap="round"/>
<path d="M735 821.8 L756.3 821.8 Q765.9 821.8 765.9 831.4 L765.9 906.2 Q765.9 915.8 775.5 915.8 L922 915.8" stroke="#1a9bb6" stroke-width="3.8" fill="none" stroke-linecap="round"/>
<path d="M735 821.8 L734.8 1351.9 Q734.8 1361.5 725.2 1361.5 L634.2 1361.5 Q624.6 1361.5 624.6 1371.1 L624.6 1702.1 Q624.6 1711.7 634.2 1711.7 L912.5 1711.7 Q922.1 1711.7 922.1 1702.1 L922.1 1681.3" stroke="#1a9bb6" stroke-width="3.8" fill="none" stroke-linecap="round"/>
<path d="M1063.8 630.7 L1063.8 648.2 Q1063.8 657.8 1073.4 657.8 L1146.9 657.8 Q1156.5 657.8 1156.5 667.4 L1156.5 916.1" stroke="#1a9bb6" stroke-width="3.8" fill="none" stroke-linecap="round"/>
<path d="M1273.7 634.4 L1273.7 664.1 Q1273.7 673.7 1264.1 673.7 L1197.3 673.7 Q1187.7 673.7 1187.7 683.3 L1187.7 916.1" stroke="#1a9bb6" stroke-width="3.8" fill="none" stroke-linecap="round"/>
<path d="M1492.1 634.4 L1492.1 687.5 Q1492.1 697.1 1482.5 697.1 L1228.6 697.1 Q1219 697.1 1219 706.7 L1219 916.1" stroke="#1a9bb6" stroke-width="3.8" fill="none" stroke-linecap="round"/>
<path d="M1218.9 666 L1244.7 666 Q1254.3 666 1254.3 656.4 L1254.3 634.4" stroke="#ff0000" stroke-width="3.8" fill="none" stroke-linecap="round"/>
<path d="M1025.2 630.7 L1025.2 773.7 Q1025.2 783.3 1015.6 783.3 L814.8 783.3 Q805.2 783.3 805.2 792.9 L805.2 1320 Q805.2 1329.6 814.8 1329.6 L872.1 1329.6 Q881.7 1329.6 881.7 1339.2 L881.7 1384.6" stroke="#8cfa46" stroke-width="3.8" fill="none" stroke-linecap="round"/>
<path d="M1234.4 634.4 L1234.4 781.4 Q1234.4 791 1224.8 791 L822.6 791 Q813 791 813 800.6 L813 1312.5 Q813 1322.1 822.6 1322.1 L887.7 1322.1 Q897.3 1322.1 897.3 1331.7 L897.3 1384.6" stroke="#9a88ea" stroke-width="3.8" fill="none" stroke-linecap="round"/>
<path d="M1044.6 630.7 L1044.6 685.7 Q1044.6 697.7 1056.6 697.7 L1113.3 697.7 Q1125.3 697.7 1125.3 709.7 L1125.3 712.8" stroke="#ff0000" stroke-width="3.8" fill="none" stroke-linecap="round"/>
<path d="M1125.3 744.2 L1128.8 744.2 Q1140.8 744.2 1140.8 756.2 L1140.8 900.6" stroke="#ff0000" stroke-width="3.8" fill="none" stroke-linecap="round"/>
<path d="M1187.8 666 L1184.1 666 Q1172.1 666 1172.1 678 L1172.1 900.6" stroke="#ff0000" stroke-width="3.8" fill="none" stroke-linecap="round"/>
<path d="M1343.7 681.4 L1259.8 681.4 Q1250.2 681.4 1250.2 691 L1250.2 900.6" stroke="#ff0000" stroke-width="3.8" fill="none" stroke-linecap="round"/>
<path d="M1375.4 681.4 L1463.5 681.4 Q1473.1 681.4 1473.1 671.8 L1473.1 634.4" stroke="#ff0000" stroke-width="3.8" fill="none" stroke-linecap="round"/>
<path d="M1453.4 634.4 L1453.4 789.3 Q1453.4 798.9 1443.8 798.9 L830.2 798.9 Q820.6 798.9 820.6 808.5 L820.6 1304.6 Q820.6 1314.2 830.2 1314.2 L903.4 1314.2 Q913 1314.2 913 1323.8 L913 1384.6" stroke="#a9563c" stroke-width="3.8" fill="none" stroke-linecap="round"/>
<path d="M1234.6 900.6 L1234.6 815.8 Q1234.6 806.2 1244.2 806.2 L1724.8 806.2 Q1734.4 806.2 1734.4 815.8 L1734.4 837.7" stroke="#ff0000" stroke-width="3.8" fill="none" stroke-linecap="round"/>
<path d="M1265.9 900.6 L1265.9 823.6 Q1265.9 814 1275.5 814 L1716.9 814 Q1726.5 814 1726.5 823.6 L1726.5 986.2 Q1726.5 994.1 1734.4 994.1 L1734.4 994.1" stroke="#ff0000" stroke-width="3.8" fill="none" stroke-linecap="round"/>
<path d="M1281.5 900.6 L1281.5 831.5 Q1281.5 821.9 1291.1 821.9 L1708.9 821.9 Q1718.5 821.9 1718.5 831.5 L1718.5 1181.2" stroke="#ff0000" stroke-width="3.8" fill="none" stroke-linecap="round"/>
<path d="M1734.4 868.5 L1734.4 890.3 Q1734.4 899.9 1744 899.9 L1847.1 899.9" stroke="#ff0000" stroke-width="3.8" fill="none" stroke-linecap="round"/>
<path d="M1734.4 1024.9 L1734.4 1077.5 Q1734.4 1087.1 1744 1087.1 L1847.1 1087.1" stroke="#ff0000" stroke-width="3.8" fill="none" stroke-linecap="round"/>
<path d="M1718.5 1212.3 L1718.5 1265.2 Q1718.5 1274.8 1728.1 1274.8 L1847.1 1274.8" stroke="#ff0000" stroke-width="3.8" fill="none" stroke-linecap="round"/>
<path d="M1297.1 916.1 L1297.1 921.9 Q1297.1 931.5 1306.7 931.5 L1693.6 931.5 Q1703.2 931.5 1703.2 941.1 L1703.2 1244.8 Q1703.2 1254.4 1712.8 1254.4 L1849.7 1254.4" stroke="#1a9bb6" stroke-width="3.8" fill="none" stroke-linecap="round"/>
<path d="M1234.6 916.1 L1234.6 930.2 Q1234.6 939.8 1244.2 939.8 L1771.4 939.8 Q1781 939.8 1781 930.2 L1781 889.1 Q1781 879.5 1790.6 879.5 L1849.7 879.5" stroke="#1a9bb6" stroke-width="3.8" fill="none" stroke-linecap="round"/>
<path d="M1265.9 916.1 L1265.9 937.9 Q1265.9 947.5 1275.5 947.5 L1701.4 947.5 Q1711 947.5 1711 957.1 L1711 1057.1 Q1711 1066.7 1720.6 1066.7 L1849.7 1066.7" stroke="#1a9bb6" stroke-width="3.8" fill="none" stroke-linecap="round"/>
<path d="M1219 1181.1 L1219 1822" stroke="#ff0000" stroke-width="3.8" fill="none" stroke-linecap="round"/>
<path d="M1234.6 1196.9 L1234.4 1822" stroke="#1a9bb6" stroke-width="3.8" fill="none" stroke-linecap="round"/>
<path d="M1281.5 1181.1 L1281.5 1765 Q1281.5 1774.6 1291.1 1774.6 L1522 1774.6 Q1531.6 1774.6 1531.6 1784.2 L1531.6 1822" stroke="#ff0000" stroke-width="3.8" fill="none" stroke-linecap="round"/>
<path d="M1312.8 1196.9 L1312.8 1757 Q1312.8 1766.6 1322.3 1766.6 L1537.5 1766.6 Q1547.1 1766.6 1547.1 1776.2 L1547.1 1822" stroke="#1a9bb6" stroke-width="3.8" fill="none" stroke-linecap="round"/>
<path d="M1344 1181.1 L1344 1663.5 Q1344 1673.1 1353.6 1673.1 L1849.9 1673.1 Q1859.5 1673.1 1859.5 1682.7 L1859.5 1822" stroke="#ff0000" stroke-width="3.8" fill="none" stroke-linecap="round"/>
<path d="M1375.3 1196.9 L1375.3 1656 Q1375.3 1665.6 1384.9 1665.6 L1865.4 1665.6 Q1875 1665.6 1875 1675.2 L1875 1822" stroke="#1a9bb6" stroke-width="3.8" fill="none" stroke-linecap="round"/>
<path d="M953.3 1384.6 L953.3 1276.9 Q953.3 1267.3 962.9 1267.3 L1162.9 1267.3 Q1172.5 1267.3 1172.5 1276.9 L1172.5 1822" stroke="#00ffff" stroke-width="3.8" fill="none" stroke-linecap="round"/>
<path d="M968.9 1384.6 L968.9 1339.5 Q968.9 1329.9 978.5 1329.9 L1396.6 1329.9 Q1406.2 1329.9 1406.2 1320.3 L1406.2 1284.6 Q1406.2 1275 1415.8 1275 L1607.4 1275 Q1617 1275 1617 1265.4 L1617 925.6 Q1617 916 1626.6 916 L1844.2 916" stroke="#6b3f3c" stroke-width="3.8" fill="none" stroke-linecap="round"/>
<path d="M984.6 1384.6 L984.6 1347.4 Q984.6 1337.8 994.2 1337.8 L1404.5 1337.8 Q1414.1 1337.8 1414.1 1328.2 L1414.1 1292.6 Q1414.1 1283 1423.7 1283 L1619.4 1283 Q1629 1283 1629 1273.4 L1629 1112.8 Q1629 1103.2 1638.6 1103.2 L1844.2 1103.2" stroke="#ff00a0" stroke-width="3.8" fill="none" stroke-linecap="round"/>
<path d="M1015.8 1384.6 L1015.8 1355.1 Q1015.8 1345.5 1025.4 1345.5 L1420.7 1345.5 Q1430.3 1345.5 1430.3 1335.9 L1430.2 1300.5 Q1430.2 1290.9 1439.8 1290.9 L1844.2 1290.9" stroke="#5aad46" stroke-width="3.8" fill="none" stroke-linecap="round"/>
<path d="M1000.2 1384.6 L1000.2 1284.4 Q1000.2 1274.8 1009.8 1274.8 L1264.1 1274.8 Q1273.7 1274.8 1273.7 1284.4 L1273.7 1781.2 Q1273.7 1790.8 1283.3 1790.8 L1475.4 1790.8 Q1485 1790.8 1485 1800.4 L1485 1822" stroke="#ff8c00" stroke-width="3.8" fill="none" stroke-linecap="round"/>
<path d="M1031.4 1384.6 L1031.4 1292.6 Q1031.4 1283 1041 1283 L1326.7 1283 Q1336.3 1283 1336.3 1292.6 L1336.3 1671.4 Q1336.3 1681 1345.9 1681 L1803.4 1681 Q1813 1681 1813 1690.6 L1813 1822" stroke="#c4c8ff" stroke-width="3.8" fill="none" stroke-linecap="round"/>
<path d="M1047.1 1384.6 L1047.1 1308.1 Q1047.1 1298.5 1037.5 1298.5 L275.6 1298.5 Q266 1298.5 266 1288.9 L266 1089.4 Q266 1079.8 275.6 1079.8 L297.4 1079.8" stroke="#86a800" stroke-width="3.8" fill="none" stroke-linecap="round"/>
<path d="M1062.7 1384.6 L1062.7 1292.6 Q1062.7 1283 1053.1 1283 L290.9 1283 Q281.3 1283 281.3 1273.4 L281.3 1102.3 Q281.3 1092.7 290.9 1092.7 L297.4 1092.7" stroke="#00ff00" stroke-width="3.8" fill="none" stroke-linecap="round"/>
<path d="M297.4 1068.2 L282.9 1068.2 Q273.3 1068.2 273.3 1058.6 L273.3 1019.4 Q273.3 1009.8 282.9 1009.8 L881.6 1009.8 Q891.2 1009.8 891.2 1019.4 L891.2 1178.9 Q891.2 1188.5 900.8 1188.5 L930.2 1188.5 Q937.6 1188.5 937.6 1181.1 L937.6 1181.1" stroke="#ff0000" stroke-width="3.8" fill="none" stroke-linecap="round"/>
<path d="M297.4 1055.9 L291.1 1055.9 Q281.5 1055.9 281.5 1046.3 L281.5 1026.9 Q281.5 1017.3 291.1 1017.3 L873.7 1017.3 Q883.3 1017.3 883.3 1026.9 L883.3 1218.4 Q883.3 1228 892.9 1228 L943.7 1228 Q953.3 1228 953.3 1218.4 L953.3 1196.9" stroke="#1a9bb6" stroke-width="3.8" fill="none" stroke-linecap="round"/>
<path d="M984.5 900.6 L984.5 1181.1" stroke="#ff0000" stroke-width="3.8" fill="none" stroke-linecap="round"/>
<path d="M968.9 916.1 L968.9 1196.9" stroke="#1a9bb6" stroke-width="3.8" fill="none" stroke-linecap="round"/>
<path d="M984.6 1681.3 L984.6 1789.2 Q984.6 1798.8 994.2 1798.8 L1178.4 1798.8 Q1188 1798.8 1188 1808.4 L1188 1822" stroke="#b8860b" stroke-width="3.8" fill="none" stroke-linecap="round"/>
<path d="M1000.2 1681.3 L1000.2 1781.2 Q1000.2 1790.8 1009.8 1790.8 L1193.9 1790.8 Q1203.5 1790.8 1203.5 1800.4 L1203.5 1822" stroke="#7b40be" stroke-width="3.8" fill="none" stroke-linecap="round"/>
<path d="M1015.8 1681.3 L1015.8 1773.3 Q1015.8 1782.9 1025.4 1782.9 L1490.9 1782.9 Q1500.5 1782.9 1500.5 1792.5 L1500.5 1822" stroke="#a8ffd0" stroke-width="3.8" fill="none" stroke-linecap="round"/>
<path d="M1031.5 1681.3 L1031.5 1749.6 Q1031.5 1759.2 1041.1 1759.2 L1506.5 1759.2 Q1516.1 1759.2 1516.1 1768.8 L1516.1 1822" stroke="#ff9cfb" stroke-width="3.8" fill="none" stroke-linecap="round"/>
<path d="M1047.1 1681.3 L1047.1 1733.8 Q1047.1 1743.4 1056.7 1743.4 L1818.9 1743.4 Q1828.5 1743.4 1828.5 1753 L1828.5 1822" stroke="#7a4a02" stroke-width="3.8" fill="none" stroke-linecap="round"/>
<path d="M1062.7 1681.3 L1062.7 1726.3 Q1062.7 1735.9 1072.3 1735.9 L1834.4 1735.9 Q1844 1735.9 1844 1745.5 L1844 1822" stroke="#7c4a8e" stroke-width="3.8" fill="none" stroke-linecap="round"/>
<g opacity="0.2"><use href="#hd" x="984.5" y="900.6"/><use href="#hd" x="984.5" y="916.1"/><use href="#hd" x="984.5" y="962.8"/><use href="#hd" x="984.5" y="978.4"/><use href="#hd" x="984.5" y="994.1"/><use href="#hd" x="984.5" y="1009.7"/><use href="#hd" x="984.5" y="1025.3"/><use href="#hd" x="984.5" y="1072.2"/><use href="#hd" x="984.5" y="1087.8"/><use href="#hd" x="984.5" y="1103.5"/><use href="#hd" x="984.5" y="1119.1"/><use href="#hd" x="984.5" y="1134.7"/><use href="#hd" x="984.5" y="1181.2"/><use href="#hd" x="984.5" y="1197"/><use href="#hd" x="968.9" y="900.6"/><use href="#hd" x="968.9" y="916.1"/><use href="#hd" x="968.9" y="962.8"/><use href="#hd" x="968.9" y="978.4"/><use href="#hd" x="968.9" y="994.1"/><use href="#hd" x="968.9" y="1009.7"/><use href="#hd" x="968.9" y="1025.3"/><use href="#hd" x="968.9" y="1072.2"/><use href="#hd" x="968.9" y="1087.8"/><use href="#hd" x="968.9" y="1103.5"/><use href="#hd" x="968.9" y="1119.1"/><use href="#hd" x="968.9" y="1134.7"/><use href="#hd" x="968.9" y="1181.2"/><use href="#hd" x="968.9" y="1197"/><use href="#hd" x="1156.5" y="900.6"/><use href="#hd" x="1187.7" y="900.6"/><use href="#hd" x="1219" y="900.6"/><use href="#hd" x="1219" y="1197"/><use href="#hd" x="1281.5" y="1197"/><use href="#hd" x="1344" y="1197"/></g>
<circle cx="249.7" cy="509.4" r="4.4" fill="#ff0000"/><circle cx="313" cy="728.5" r="4.4" fill="#ff0000"/><circle cx="258.2" cy="533.5" r="4.4" fill="#000000"/><circle cx="313.6" cy="791.4" r="4.4" fill="#000000"/><circle cx="405.5" cy="728.3" r="4.4" fill="#ff0000"/><circle cx="516" cy="728.3" r="4.4" fill="#ff0000"/><circle cx="405.5" cy="791.4" r="4.4" fill="#000000"/><circle cx="516" cy="829.6" r="4.4" fill="#000000"/><circle cx="735" cy="728.3" r="4.4" fill="#ff0000"/><circle cx="922" cy="900.6" r="4.4" fill="#ff0000"/><circle cx="735" cy="821.8" r="4.4" fill="#1a9bb6"/><circle cx="922" cy="915.8" r="4.4" fill="#1a9bb6"/><circle cx="735" cy="821.8" r="4.4" fill="#1a9bb6"/><circle cx="922.1" cy="1681.3" r="4.4" fill="#1a9bb6"/><circle cx="1063.8" cy="630.7" r="4.4" fill="#1a9bb6"/><circle cx="1156.5" cy="916.1" r="4.4" fill="#1a9bb6"/><circle cx="1273.7" cy="634.4" r="4.4" fill="#1a9bb6"/><circle cx="1187.7" cy="916.1" r="4.4" fill="#1a9bb6"/><circle cx="1492.1" cy="634.4" r="4.4" fill="#1a9bb6"/><circle cx="1219" cy="916.1" r="4.4" fill="#1a9bb6"/><circle cx="1218.9" cy="666" r="4.4" fill="#ff0000"/><circle cx="1254.3" cy="634.4" r="4.4" fill="#ff0000"/><circle cx="1025.2" cy="630.7" r="4.4" fill="#8cfa46"/><circle cx="881.7" cy="1384.6" r="4.4" fill="#8cfa46"/><circle cx="1234.4" cy="634.4" r="4.4" fill="#9a88ea"/><circle cx="897.3" cy="1384.6" r="4.4" fill="#9a88ea"/><circle cx="1044.6" cy="630.7" r="4.4" fill="#ff0000"/><circle cx="1125.3" cy="712.8" r="4.4" fill="#ff0000"/><circle cx="1125.3" cy="744.2" r="4.4" fill="#ff0000"/><circle cx="1140.8" cy="900.6" r="4.4" fill="#ff0000"/><circle cx="1187.8" cy="666" r="4.4" fill="#ff0000"/><circle cx="1172.1" cy="900.6" r="4.4" fill="#ff0000"/><circle cx="1343.7" cy="681.4" r="4.4" fill="#ff0000"/><circle cx="1250.2" cy="900.6" r="4.4" fill="#ff0000"/><circle cx="1375.4" cy="681.4" r="4.4" fill="#ff0000"/><circle cx="1473.1" cy="634.4" r="4.4" fill="#ff0000"/><circle cx="1453.4" cy="634.4" r="4.4" fill="#a9563c"/><circle cx="913" cy="1384.6" r="4.4" fill="#a9563c"/><circle cx="1234.6" cy="900.6" r="4.4" fill="#ff0000"/><circle cx="1734.4" cy="837.7" r="4.4" fill="#ff0000"/><circle cx="1265.9" cy="900.6" r="4.4" fill="#ff0000"/><circle cx="1734.4" cy="994.1" r="4.4" fill="#ff0000"/><circle cx="1281.5" cy="900.6" r="4.4" fill="#ff0000"/><circle cx="1718.5" cy="1181.2" r="4.4" fill="#ff0000"/><circle cx="1734.4" cy="868.5" r="4.4" fill="#ff0000"/><circle cx="1847.1" cy="899.9" r="4.4" fill="#ff0000"/><circle cx="1734.4" cy="1024.9" r="4.4" fill="#ff0000"/><circle cx="1847.1" cy="1087.1" r="4.4" fill="#ff0000"/><circle cx="1718.5" cy="1212.3" r="4.4" fill="#ff0000"/><circle cx="1847.1" cy="1274.8" r="4.4" fill="#ff0000"/><circle cx="1297.1" cy="916.1" r="4.4" fill="#1a9bb6"/><circle cx="1849.7" cy="1254.4" r="4.4" fill="#1a9bb6"/><circle cx="1234.6" cy="916.1" r="4.4" fill="#1a9bb6"/><circle cx="1849.7" cy="879.5" r="4.4" fill="#1a9bb6"/><circle cx="1265.9" cy="916.1" r="4.4" fill="#1a9bb6"/><circle cx="1849.7" cy="1066.7" r="4.4" fill="#1a9bb6"/><circle cx="1219" cy="1181.1" r="4.4" fill="#ff0000"/><circle cx="1219" cy="1822" r="4.4" fill="#ff0000"/><circle cx="1234.6" cy="1196.9" r="4.4" fill="#1a9bb6"/><circle cx="1234.4" cy="1822" r="4.4" fill="#1a9bb6"/><circle cx="1281.5" cy="1181.1" r="4.4" fill="#ff0000"/><circle cx="1531.6" cy="1822" r="4.4" fill="#ff0000"/><circle cx="1312.8" cy="1196.9" r="4.4" fill="#1a9bb6"/><circle cx="1547.1" cy="1822" r="4.4" fill="#1a9bb6"/><circle cx="1344" cy="1181.1" r="4.4" fill="#ff0000"/><circle cx="1859.5" cy="1822" r="4.4" fill="#ff0000"/><circle cx="1375.3" cy="1196.9" r="4.4" fill="#1a9bb6"/><circle cx="1875" cy="1822" r="4.4" fill="#1a9bb6"/><circle cx="953.3" cy="1384.6" r="4.4" fill="#00ffff"/><circle cx="1172.5" cy="1822" r="4.4" fill="#00ffff"/><circle cx="968.9" cy="1384.6" r="4.4" fill="#6b3f3c"/><circle cx="1844.2" cy="916" r="4.4" fill="#6b3f3c"/><circle cx="984.6" cy="1384.6" r="4.4" fill="#ff00a0"/><circle cx="1844.2" cy="1103.2" r="4.4" fill="#ff00a0"/><circle cx="1015.8" cy="1384.6" r="4.4" fill="#5aad46"/><circle cx="1844.2" cy="1290.9" r="4.4" fill="#5aad46"/><circle cx="1000.2" cy="1384.6" r="4.4" fill="#ff8c00"/><circle cx="1485" cy="1822" r="4.4" fill="#ff8c00"/><circle cx="1031.4" cy="1384.6" r="4.4" fill="#c4c8ff"/><circle cx="1813" cy="1822" r="4.4" fill="#c4c8ff"/><circle cx="1047.1" cy="1384.6" r="4.4" fill="#86a800"/><circle cx="297.4" cy="1079.8" r="4.4" fill="#86a800"/><circle cx="1062.7" cy="1384.6" r="4.4" fill="#00ff00"/><circle cx="297.4" cy="1092.7" r="4.4" fill="#00ff00"/><circle cx="297.4" cy="1068.2" r="4.4" fill="#ff0000"/><circle cx="937.6" cy="1181.1" r="4.4" fill="#ff0000"/><circle cx="297.4" cy="1055.9" r="4.4" fill="#1a9bb6"/><circle cx="953.3" cy="1196.9" r="4.4" fill="#1a9bb6"/><circle cx="984.5" cy="900.6" r="4.4" fill="#ff0000"/><circle cx="984.5" cy="1181.1" r="4.4" fill="#ff0000"/><circle cx="968.9" cy="916.1" r="4.4" fill="#1a9bb6"/><circle cx="968.9" cy="1196.9" r="4.4" fill="#1a9bb6"/><circle cx="984.6" cy="1681.3" r="4.4" fill="#b8860b"/><circle cx="1188" cy="1822" r="4.4" fill="#b8860b"/><circle cx="1000.2" cy="1681.3" r="4.4" fill="#7b40be"/><circle cx="1203.5" cy="1822" r="4.4" fill="#7b40be"/><circle cx="1015.8" cy="1681.3" r="4.4" fill="#a8ffd0"/><circle cx="1500.5" cy="1822" r="4.4" fill="#a8ffd0"/><circle cx="1031.5" cy="1681.3" r="4.4" fill="#ff9cfb"/><circle cx="1516.1" cy="1822" r="4.4" fill="#ff9cfb"/><circle cx="1047.1" cy="1681.3" r="4.4" fill="#7a4a02"/><circle cx="1828.5" cy="1822" r="4.4" fill="#7a4a02"/><circle cx="1062.7" cy="1681.3" r="4.4" fill="#7c4a8e"/><circle cx="1844" cy="1822" r="4.4" fill="#7c4a8e"/>
<g id="logo"><clipPath id="lgc"><rect x="1541.9" y="90" width="100" height="95.2"/></clipPath><g clip-path="url(#lgc)" stroke="#a9a9a9" stroke-width="8.7" fill="none"><path d="M1573 119.6L1460.8 231.8"/><path d="M1604 122.9L1491.8 235.1"/><path d="M1607.8 153.7L1495.6 265.9"/></g><g stroke="#a9a9a9" stroke-width="4.7" fill="none"><circle cx="1580.8" cy="111.8" r="9.4"/><circle cx="1611.8" cy="115.1" r="9.4"/><circle cx="1615.6" cy="145.9" r="9.4"/></g><text transform="matrix(0.7694 0 0 1.0141 1641.93 176.64)" font-size="100" font-weight="normal" fill="#a9a9a9" stroke="#a9a9a9" stroke-width="2.5" stroke-linejoin="miter" vector-effect="non-scaling-stroke">C</text><text transform="matrix(0.9205 0 0 0.9586 1703.58 176.75)" font-size="100" font-weight="normal" fill="#a9a9a9" stroke="#a9a9a9" stroke-width="2.5" stroke-linejoin="miter" vector-effect="non-scaling-stroke">i</text><text transform="matrix(1.2960 0 0 0.9405 1726.90 176.75)" font-size="100" font-weight="normal" fill="#a9a9a9" stroke="#a9a9a9" stroke-width="2.5" stroke-linejoin="miter" vector-effect="non-scaling-stroke">r</text><text transform="matrix(0.9816 0 0 0.9641 1773.27 176.75)" font-size="100" font-weight="normal" fill="#a9a9a9" stroke="#a9a9a9" stroke-width="2.5" stroke-linejoin="miter" vector-effect="non-scaling-stroke">k</text><text transform="matrix(0.8977 0 0 0.9586 1827.04 176.75)" font-size="100" font-weight="normal" fill="#a9a9a9" stroke="#a9a9a9" stroke-width="2.5" stroke-linejoin="miter" vector-effect="non-scaling-stroke">i</text><text transform="matrix(0.8203 0 0 0.9954 1853.62 176.45)" font-size="100" font-weight="normal" fill="#a9a9a9" stroke="#a9a9a9" stroke-width="2.5" stroke-linejoin="miter" vector-effect="non-scaling-stroke">t</text><text transform="matrix(0.8793 0 0 1.3009 1912.51 178.30)" font-size="100" font-weight="bold" fill="#a9a9a9">D</text><text transform="matrix(0.9607 0 0 1.2117 1980.55 178.29)" font-size="100" font-weight="bold" fill="#a9a9a9">e</text><text transform="matrix(1.0062 0 0 1.2095 2035.88 178.29)" font-size="100" font-weight="bold" fill="#a9a9a9">s</text><text transform="matrix(1.0365 0 0 1.2276 2091.74 178.30)" font-size="100" font-weight="bold" fill="#a9a9a9">i</text><text transform="matrix(0.9125 0 0 1.2077 2122.36 178.20)" font-size="100" font-weight="bold" fill="#a9a9a9">g</text><text transform="matrix(0.9503 0 0 1.2096 2181.13 178.30)" font-size="100" font-weight="bold" fill="#a9a9a9">n</text><text transform="matrix(0.9669 0 0 1.2117 2242.43 178.29)" font-size="100" font-weight="bold" fill="#a9a9a9">e</text><text transform="matrix(1.2240 0 0 1.2096 2298.22 178.30)" font-size="100" font-weight="bold" fill="#a9a9a9">r</text></g>
</svg>
</body></html>
